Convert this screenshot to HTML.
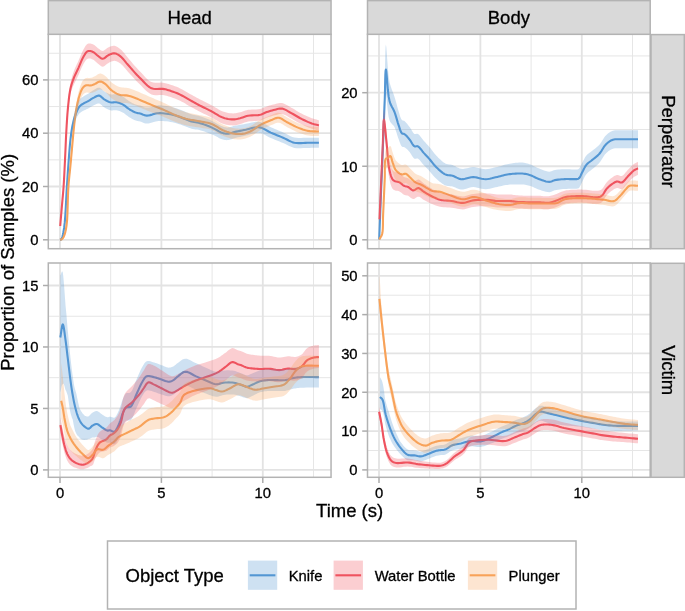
<!DOCTYPE html><html><head><meta charset="utf-8"><style>html,body{margin:0;padding:0;background:#fff;}svg{display:block;will-change:transform;} .t{stroke:#000;stroke-width:0.3px;}</style></head><body>
<svg width="685" height="611" viewBox="0 0 685 611" font-family='"Liberation Sans", sans-serif'>
<rect x="0" y="0" width="685" height="611" fill="#fff"/>
<clipPath id="chp"><rect x="48.3" y="34.3" width="282.75" height="214.39999999999998"/></clipPath>
<g clip-path="url(#chp)">
<line x1="110.7" y1="34.3" x2="110.7" y2="248.7" stroke="#E6E6E6" stroke-width="1.0"/>
<line x1="212.1" y1="34.3" x2="212.1" y2="248.7" stroke="#E6E6E6" stroke-width="1.0"/>
<line x1="313.5" y1="34.3" x2="313.5" y2="248.7" stroke="#E6E6E6" stroke-width="1.0"/>
<line x1="48.3" y1="213.15" x2="331.05" y2="213.15" stroke="#E6E6E6" stroke-width="1.0"/>
<line x1="48.3" y1="159.85" x2="331.05" y2="159.85" stroke="#E6E6E6" stroke-width="1.0"/>
<line x1="48.3" y1="106.55" x2="331.05" y2="106.55" stroke="#E6E6E6" stroke-width="1.0"/>
<line x1="48.3" y1="53.25" x2="331.05" y2="53.25" stroke="#E6E6E6" stroke-width="1.0"/>
<line x1="60" y1="34.3" x2="60" y2="248.7" stroke="#E3E3E3" stroke-width="1.8"/>
<line x1="161.4" y1="34.3" x2="161.4" y2="248.7" stroke="#E3E3E3" stroke-width="1.8"/>
<line x1="262.8" y1="34.3" x2="262.8" y2="248.7" stroke="#E3E3E3" stroke-width="1.8"/>
<line x1="48.3" y1="239.8" x2="331.05" y2="239.8" stroke="#E3E3E3" stroke-width="1.8"/>
<line x1="48.3" y1="186.5" x2="331.05" y2="186.5" stroke="#E3E3E3" stroke-width="1.8"/>
<line x1="48.3" y1="133.2" x2="331.05" y2="133.2" stroke="#E3E3E3" stroke-width="1.8"/>
<line x1="48.3" y1="79.9" x2="331.05" y2="79.9" stroke="#E3E3E3" stroke-width="1.8"/>
<path d="M60 239.8 L60.22 239.72 L60.44 239.66 L60.66 239.61 L60.88 239.53 L61.09 239.4 L61.3 239.2 L61.85 238.22 L62.37 236.76 L62.84 234.9 L63.28 232.74 L63.7 230.37 L64.1 227.9 L64.76 222.38 L65.3 215.61 L65.75 208.11 L66.14 200.41 L66.52 193.03 L66.9 186.5 L67.19 182.2 L67.45 178.17 L67.71 174.32 L67.96 170.57 L68.22 166.82 L68.5 163 L68.79 159.09 L69.08 155.11 L69.38 151.13 L69.69 147.24 L70.03 143.51 L70.4 140 L70.7 137.41 L71.01 134.94 L71.34 132.57 L71.68 130.27 L72.07 128.02 L72.5 125.8 L72.92 123.82 L73.36 121.88 L73.83 119.98 L74.33 118.12 L74.89 116.33 L75.5 114.6 L76.09 113.08 L76.71 111.57 L77.36 110.1 L78.06 108.72 L78.81 107.47 L79.6 106.4 L80.23 105.74 L80.89 105.17 L81.58 104.68 L82.28 104.24 L82.99 103.82 L83.7 103.4 L84.37 103.01 L85.04 102.67 L85.72 102.34 L86.4 102.02 L87.09 101.68 L87.8 101.3 L88.62 100.82 L89.44 100.3 L90.28 99.76 L91.13 99.22 L92.01 98.69 L92.9 98.2 L93.88 97.65 L94.91 97.04 L95.95 96.46 L97 95.96 L98.02 95.65 L99 95.6 L99.9 95.87 L100.76 96.4 L101.6 97.11 L102.44 97.9 L103.3 98.66 L104.2 99.3 L105.17 99.88 L106.17 100.48 L107.18 101.04 L108.21 101.56 L109.25 101.99 L110.3 102.3 L111.3 102.44 L112.31 102.43 L113.34 102.35 L114.36 102.25 L115.39 102.22 L116.4 102.3 L117.44 102.5 L118.48 102.76 L119.51 103.08 L120.54 103.46 L121.57 103.9 L122.6 104.4 L123.79 105.1 L124.98 105.95 L126.17 106.88 L127.35 107.82 L128.53 108.71 L129.7 109.5 L130.74 110.12 L131.78 110.71 L132.82 111.27 L133.84 111.78 L134.84 112.23 L135.8 112.6 L136.52 112.82 L137.21 112.98 L137.87 113.1 L138.55 113.2 L139.25 113.33 L140 113.5 L141.04 113.83 L142.12 114.26 L143.26 114.71 L144.43 115.13 L145.65 115.45 L146.9 115.6 L148.53 115.49 L150.28 115.13 L152.1 114.62 L153.9 114.07 L155.63 113.59 L157.2 113.3 L158.22 113.2 L159.15 113.15 L160.03 113.14 L160.92 113.17 L161.86 113.22 L162.9 113.3 L164.59 113.46 L166.45 113.69 L168.42 113.98 L170.44 114.33 L172.46 114.74 L174.4 115.2 L176.36 115.77 L178.37 116.45 L180.37 117.19 L182.3 117.94 L184.13 118.66 L185.8 119.3 L186.85 119.71 L187.8 120.1 L188.69 120.48 L189.58 120.84 L190.5 121.18 L191.5 121.5 L192.8 121.82 L194.16 122.08 L195.57 122.31 L197.02 122.55 L198.5 122.83 L200 123.2 L201.83 123.75 L203.73 124.37 L205.68 125.07 L207.63 125.81 L209.58 126.59 L211.5 127.4 L213.46 128.33 L215.45 129.41 L217.44 130.52 L219.37 131.57 L221.2 132.47 L222.9 133.1 L223.94 133.38 L224.92 133.57 L225.85 133.7 L226.76 133.76 L227.67 133.76 L228.6 133.7 L229.55 133.55 L230.46 133.31 L231.38 132.99 L232.32 132.65 L233.32 132.31 L234.4 132 L236.09 131.61 L237.97 131.23 L239.96 130.85 L241.97 130.47 L243.95 130.09 L245.8 129.7 L247.34 129.33 L248.84 128.92 L250.32 128.51 L251.75 128.13 L253.15 127.82 L254.5 127.6 L255.56 127.47 L256.56 127.37 L257.54 127.31 L258.52 127.31 L259.53 127.4 L260.6 127.6 L262.16 128.1 L263.8 128.85 L265.5 129.76 L267.24 130.74 L269.01 131.72 L270.8 132.6 L272.78 133.47 L274.83 134.32 L276.91 135.16 L279 136 L281.07 136.85 L283.1 137.7 L284.98 138.58 L286.82 139.54 L288.64 140.49 L290.47 141.39 L292.35 142.14 L294.3 142.7 L296.43 143.02 L298.65 143.12 L300.91 143.08 L303.19 142.97 L305.43 142.85 L307.6 142.8 L309.54 142.81 L311.43 142.81 L313.31 142.81 L315.17 142.8 L317.03 142.8 L318.9 142.8" fill="none" stroke="#5598D5" stroke-width="2.1" stroke-linejoin="round"/>
<path d="M60.2 226 L60.5 222.48 L60.8 218.95 L61.11 215.42 L61.41 211.9 L61.71 208.42 L62 205 L62.28 201.89 L62.55 198.87 L62.83 195.89 L63.1 192.87 L63.36 189.76 L63.6 186.5 L63.87 182.38 L64.11 178.08 L64.34 173.65 L64.56 169.13 L64.78 164.57 L65 160 L65.23 155.06 L65.46 149.98 L65.68 144.85 L65.9 139.75 L66.14 134.78 L66.4 130 L66.63 126.02 L66.87 122.14 L67.11 118.35 L67.37 114.64 L67.67 110.99 L68 107.4 L68.33 104.16 L68.66 100.91 L69.02 97.73 L69.42 94.64 L69.88 91.72 L70.4 89 L70.83 87.12 L71.29 85.37 L71.78 83.71 L72.31 82.1 L72.88 80.48 L73.5 78.8 L74.24 76.95 L75.06 75.09 L75.94 73.22 L76.83 71.35 L77.73 69.47 L78.6 67.6 L79.44 65.66 L80.28 63.65 L81.11 61.64 L81.95 59.7 L82.81 57.9 L83.7 56.3 L84.34 55.23 L84.98 54.17 L85.62 53.2 L86.29 52.34 L87.01 51.66 L87.8 51.2 L88.58 51 L89.42 50.97 L90.3 51.07 L91.19 51.28 L92.06 51.57 L92.9 51.9 L93.79 52.38 L94.65 53.01 L95.49 53.74 L96.33 54.51 L97.16 55.25 L98 55.9 L98.78 56.5 L99.55 57.14 L100.33 57.76 L101.11 58.3 L101.9 58.67 L102.7 58.8 L103.58 58.6 L104.48 58.09 L105.38 57.39 L106.3 56.61 L107.24 55.88 L108.2 55.3 L109.2 54.82 L110.22 54.34 L111.27 53.9 L112.33 53.54 L113.37 53.33 L114.4 53.3 L115.44 53.48 L116.46 53.84 L117.49 54.34 L118.5 54.95 L119.51 55.65 L120.5 56.4 L121.73 57.47 L122.92 58.73 L124.11 60.12 L125.29 61.59 L126.48 63.06 L127.7 64.5 L129.05 66.04 L130.46 67.66 L131.88 69.29 L133.27 70.88 L134.59 72.37 L135.8 73.7 L136.54 74.5 L137.21 75.2 L137.83 75.86 L138.48 76.51 L139.18 77.21 L140 78 L141.55 79.59 L143.33 81.5 L145.26 83.53 L147.31 85.48 L149.41 87.13 L151.5 88.3 L153.35 88.82 L155.31 89 L157.3 88.97 L159.27 88.85 L161.16 88.79 L162.9 88.9 L164.14 89.11 L165.29 89.34 L166.39 89.6 L167.48 89.89 L168.6 90.23 L169.8 90.6 L171.41 91.13 L173.11 91.72 L174.85 92.37 L176.62 93.07 L178.38 93.82 L180.1 94.6 L181.84 95.47 L183.57 96.42 L185.29 97.42 L187 98.43 L188.71 99.44 L190.4 100.4 L192.01 101.29 L193.59 102.16 L195.16 103.02 L196.74 103.88 L198.35 104.73 L200 105.6 L201.85 106.54 L203.76 107.47 L205.69 108.41 L207.64 109.36 L209.58 110.32 L211.5 111.3 L213.41 112.37 L215.31 113.53 L217.21 114.7 L219.1 115.81 L221 116.81 L222.9 117.6 L224.64 118.15 L226.4 118.6 L228.17 118.95 L229.92 119.2 L231.6 119.35 L233.2 119.4 L234.43 119.35 L235.59 119.22 L236.71 119.02 L237.82 118.77 L238.94 118.49 L240.1 118.2 L241.39 117.84 L242.67 117.4 L243.96 116.93 L245.28 116.46 L246.66 116.04 L248.1 115.7 L249.98 115.45 L252.01 115.34 L254.12 115.29 L256.21 115.23 L258.2 115.09 L260 114.8 L261.24 114.45 L262.37 114.01 L263.44 113.53 L264.49 113.03 L265.56 112.54 L266.7 112.1 L268.02 111.65 L269.38 111.21 L270.77 110.79 L272.16 110.39 L273.55 110.02 L274.9 109.7 L276.11 109.4 L277.31 109.09 L278.49 108.8 L279.68 108.6 L280.87 108.51 L282.1 108.6 L283.59 108.98 L285.1 109.6 L286.64 110.4 L288.18 111.3 L289.74 112.23 L291.3 113.1 L292.98 114.02 L294.66 115 L296.36 116.01 L298.07 117.02 L299.78 117.99 L301.5 118.9 L303.2 119.74 L304.94 120.57 L306.68 121.36 L308.41 122.11 L310.09 122.79 L311.7 123.4 L312.96 123.82 L314.18 124.18 L315.36 124.49 L316.54 124.79 L317.71 125.08 L318.9 125.4" fill="none" stroke="#EF5562" stroke-width="2.1" stroke-linejoin="round"/>
<path d="M60 239.8 L60.34 239.68 L60.68 239.58 L61.02 239.48 L61.36 239.36 L61.69 239.21 L62 239 L62.38 238.66 L62.73 238.25 L63.07 237.78 L63.39 237.25 L63.7 236.66 L64 236 L64.52 234.67 L65 233.13 L65.45 231.39 L65.86 229.45 L66.25 227.32 L66.6 225 L67.11 219.82 L67.45 213.5 L67.67 206.53 L67.86 199.38 L68.08 192.54 L68.4 186.5 L68.72 182.54 L69.06 178.84 L69.42 175.31 L69.79 171.88 L70.16 168.47 L70.5 165 L70.81 161.62 L71.11 158.27 L71.41 154.93 L71.71 151.61 L72 148.3 L72.3 145 L72.59 141.77 L72.87 138.55 L73.15 135.35 L73.44 132.15 L73.76 128.97 L74.1 125.8 L74.46 122.66 L74.83 119.49 L75.23 116.33 L75.65 113.23 L76.1 110.24 L76.6 107.4 L77.04 105.17 L77.5 103.01 L77.98 100.92 L78.49 98.91 L79.03 97 L79.6 95.2 L80.06 93.83 L80.53 92.49 L81.02 91.21 L81.54 90.01 L82.09 88.93 L82.7 88 L83.16 87.41 L83.63 86.88 L84.12 86.41 L84.64 86.01 L85.2 85.67 L85.8 85.4 L86.56 85.24 L87.4 85.23 L88.29 85.31 L89.19 85.41 L90.07 85.46 L90.9 85.4 L91.61 85.24 L92.3 85.03 L92.96 84.78 L93.63 84.5 L94.3 84.2 L95 83.9 L95.82 83.49 L96.67 82.98 L97.52 82.45 L98.38 81.97 L99.24 81.63 L100.1 81.5 L100.95 81.6 L101.81 81.86 L102.66 82.26 L103.51 82.75 L104.36 83.31 L105.2 83.9 L106.21 84.75 L107.19 85.76 L108.16 86.88 L109.15 88.02 L110.19 89.12 L111.3 90.1 L112.55 91.03 L113.87 91.95 L115.24 92.81 L116.65 93.59 L118.08 94.27 L119.5 94.8 L120.84 95.11 L122.2 95.26 L123.58 95.31 L124.96 95.33 L126.34 95.41 L127.7 95.6 L129.1 95.93 L130.52 96.34 L131.94 96.8 L133.31 97.28 L134.61 97.76 L135.8 98.2 L136.56 98.5 L137.23 98.77 L137.86 99.05 L138.5 99.34 L139.2 99.65 L140 100 L141.59 100.68 L143.41 101.47 L145.4 102.32 L147.46 103.2 L149.52 104.07 L151.5 104.9 L153.4 105.68 L155.3 106.43 L157.2 107.18 L159.1 107.94 L161 108.71 L162.9 109.5 L164.82 110.35 L166.73 111.23 L168.64 112.14 L170.56 113.03 L172.48 113.89 L174.4 114.7 L176.27 115.45 L178.13 116.17 L180 116.86 L181.88 117.51 L183.81 118.13 L185.8 118.7 L188.08 119.25 L190.46 119.73 L192.88 120.15 L195.31 120.56 L197.7 120.97 L200 121.4 L202 121.77 L203.95 122.1 L205.87 122.43 L207.76 122.81 L209.64 123.29 L211.5 123.9 L213.43 124.76 L215.33 125.82 L217.21 126.98 L219.08 128.16 L220.97 129.26 L222.9 130.2 L224.8 130.97 L226.73 131.69 L228.69 132.34 L230.63 132.9 L232.54 133.36 L234.4 133.7 L235.98 133.9 L237.53 134.02 L239.06 134.07 L240.56 134.03 L242.04 133.91 L243.5 133.7 L244.88 133.41 L246.23 133.03 L247.56 132.57 L248.88 132.03 L250.19 131.44 L251.5 130.8 L252.92 129.99 L254.3 129.05 L255.67 128.04 L257.07 127.01 L258.5 126.01 L260 125.1 L261.72 124.2 L263.52 123.32 L265.38 122.49 L267.24 121.7 L269.06 120.97 L270.8 120.3 L272.19 119.73 L273.55 119.12 L274.87 118.56 L276.18 118.1 L277.49 117.82 L278.8 117.8 L280.2 118.12 L281.58 118.75 L282.95 119.58 L284.34 120.51 L285.75 121.46 L287.2 122.3 L288.83 123.16 L290.5 124.05 L292.19 124.94 L293.91 125.81 L295.65 126.64 L297.4 127.4 L299.16 128.11 L300.95 128.79 L302.75 129.43 L304.56 130.01 L306.38 130.5 L308.2 130.9 L309.97 131.16 L311.75 131.3 L313.54 131.37 L315.33 131.4 L317.11 131.43 L318.9 131.5" fill="none" stroke="#F8A359" stroke-width="2.1" stroke-linejoin="round"/>
<path d="M60 238.8 L60.22 238.65 L60.44 238.53 L60.66 238.41 L60.88 238.27 L61.09 238.07 L61.3 237.81 L61.85 236.67 L62.37 235.05 L62.84 233.05 L63.28 230.75 L63.7 228.26 L64.1 225.67 L64.76 219.95 L65.3 213.02 L65.75 205.39 L66.14 197.57 L66.52 190.08 L66.9 183.43 L67.19 179.04 L67.45 174.93 L67.71 171.01 L67.96 167.18 L68.22 163.36 L68.5 159.45 L68.79 155.45 L69.08 151.38 L69.38 147.32 L69.69 143.34 L70.03 139.5 L70.4 135.88 L70.7 133.2 L71.01 130.64 L71.34 128.17 L71.68 125.76 L72.07 123.4 L72.5 121.05 L72.92 118.95 L73.36 116.87 L73.83 114.83 L74.33 112.82 L74.89 110.86 L75.5 108.95 L76.09 107.26 L76.71 105.55 L77.36 103.89 L78.06 102.3 L78.81 100.83 L79.6 99.52 L80.23 98.73 L80.89 98.13 L81.58 97.6 L82.28 97.13 L82.99 96.67 L83.7 96.22 L84.37 95.8 L85.04 95.41 L85.72 95.05 L86.4 94.7 L87.09 94.32 L87.8 93.91 L88.62 93.39 L89.44 92.83 L90.28 92.24 L91.13 91.66 L92.01 91.09 L92.9 90.55 L93.88 89.96 L94.91 89.3 L95.95 88.66 L97 88.11 L98.02 87.75 L99 87.65 L99.9 87.87 L100.76 88.4 L101.6 89.11 L102.44 89.9 L103.3 90.66 L104.2 91.3 L105.17 91.88 L106.17 92.48 L107.18 93.04 L108.21 93.56 L109.25 93.99 L110.3 94.3 L111.3 94.44 L112.31 94.43 L113.34 94.35 L114.36 94.25 L115.39 94.22 L116.4 94.3 L117.44 94.5 L118.48 94.76 L119.51 95.08 L120.54 95.46 L121.57 95.9 L122.6 96.4 L123.79 97.1 L124.98 97.95 L126.17 98.88 L127.35 99.82 L128.53 100.71 L129.7 101.5 L130.74 102.12 L131.78 102.71 L132.82 103.27 L133.84 103.78 L134.84 104.23 L135.8 104.6 L136.52 104.82 L137.21 104.98 L137.87 105.1 L138.55 105.2 L139.25 105.33 L140 105.5 L141.04 105.83 L142.12 106.26 L143.26 106.71 L144.43 107.13 L145.65 107.45 L146.9 107.6 L148.53 107.49 L150.28 107.13 L152.1 106.66 L153.9 106.14 L155.63 105.7 L157.2 105.44 L158.22 105.37 L159.15 105.34 L160.03 105.34 L160.92 105.38 L161.86 105.46 L162.9 105.56 L164.59 105.75 L166.45 106.02 L168.42 106.35 L170.44 106.74 L172.46 107.18 L174.4 107.69 L176.36 108.3 L178.37 109.02 L180.37 109.79 L182.3 110.59 L184.13 111.34 L185.8 112.02 L186.85 112.45 L187.8 112.86 L188.69 113.25 L189.58 113.63 L190.5 113.99 L191.5 114.33 L192.8 114.68 L194.16 114.96 L195.57 115.22 L197.02 115.49 L198.5 115.8 L200 116.2 L201.83 116.79 L203.73 117.46 L205.68 118.2 L207.63 118.98 L209.58 119.81 L211.5 120.66 L213.46 121.64 L215.45 122.76 L217.44 123.92 L219.37 125.01 L221.2 125.95 L222.9 126.62 L223.94 126.93 L224.92 127.15 L225.85 127.3 L226.76 127.39 L227.67 127.41 L228.6 127.37 L229.55 127.25 L230.46 127.03 L231.38 126.74 L232.32 126.42 L233.32 126.11 L234.4 125.83 L236.09 125.48 L237.97 125.15 L239.96 124.82 L241.97 124.5 L243.95 124.17 L245.8 123.83 L247.34 123.49 L248.84 123.13 L250.32 122.76 L251.75 122.42 L253.15 122.14 L254.5 121.96 L255.56 121.86 L256.56 121.78 L257.54 121.74 L258.52 121.77 L259.53 121.89 L260.6 122.11 L262.16 122.62 L263.8 123.38 L265.5 124.3 L267.24 125.3 L269.01 126.29 L270.8 127.19 L272.78 128.08 L274.83 128.95 L276.91 129.81 L279 130.67 L281.07 131.53 L283.1 132.4 L284.98 133.3 L286.82 134.27 L288.64 135.24 L290.47 136.15 L292.35 136.92 L294.3 137.5 L296.43 137.83 L298.65 137.96 L300.91 137.93 L303.19 137.84 L305.43 137.74 L307.6 137.71 L309.54 137.73 L311.43 137.75 L313.31 137.77 L315.17 137.78 L317.03 137.79 L318.9 137.8 L318.9 147.8 L317.03 147.81 L315.17 147.83 L313.31 147.85 L311.43 147.86 L309.54 147.88 L307.6 147.89 L305.43 147.96 L303.19 148.1 L300.91 148.23 L298.65 148.29 L296.43 148.21 L294.3 147.9 L292.35 147.36 L290.47 146.62 L288.64 145.75 L286.82 144.81 L284.98 143.87 L283.1 143 L281.07 142.17 L279 141.34 L276.91 140.52 L274.83 139.69 L272.78 138.86 L270.8 138.01 L269.01 137.14 L267.24 136.18 L265.5 135.21 L263.8 134.32 L262.16 133.58 L260.6 133.09 L259.53 132.91 L258.52 132.85 L257.54 132.87 L256.56 132.96 L255.56 133.09 L254.5 133.24 L253.15 133.5 L251.75 133.85 L250.32 134.27 L248.84 134.71 L247.34 135.16 L245.8 135.57 L243.95 136.01 L241.97 136.45 L239.96 136.88 L237.97 137.31 L236.09 137.74 L234.4 138.17 L233.32 138.51 L232.32 138.88 L231.38 139.25 L230.46 139.58 L229.55 139.85 L228.6 140.03 L227.67 140.11 L226.76 140.14 L225.85 140.1 L224.92 140 L223.94 139.82 L222.9 139.58 L221.2 138.98 L219.37 138.13 L217.44 137.12 L215.45 136.06 L213.46 135.03 L211.5 134.14 L209.58 133.38 L207.63 132.64 L205.68 131.94 L203.73 131.29 L201.83 130.71 L200 130.2 L198.5 129.86 L197.02 129.61 L195.57 129.4 L194.16 129.2 L192.8 128.97 L191.5 128.67 L190.5 128.37 L189.58 128.05 L188.69 127.71 L187.8 127.35 L186.85 126.97 L185.8 126.58 L184.13 125.98 L182.3 125.29 L180.37 124.58 L178.37 123.88 L176.36 123.24 L174.4 122.71 L172.46 122.29 L170.44 121.92 L168.42 121.61 L166.45 121.36 L164.59 121.17 L162.9 121.04 L161.86 120.98 L160.92 120.95 L160.03 120.94 L159.15 120.97 L158.22 121.04 L157.2 121.16 L155.63 121.48 L153.9 121.99 L152.1 122.57 L150.28 123.12 L148.53 123.49 L146.9 123.6 L145.65 123.45 L144.43 123.13 L143.26 122.71 L142.12 122.26 L141.04 121.83 L140 121.5 L139.25 121.33 L138.55 121.2 L137.87 121.1 L137.21 120.98 L136.52 120.82 L135.8 120.6 L134.84 120.23 L133.84 119.78 L132.82 119.27 L131.78 118.71 L130.74 118.12 L129.7 117.5 L128.53 116.71 L127.35 115.82 L126.17 114.88 L124.98 113.95 L123.79 113.1 L122.6 112.4 L121.57 111.9 L120.54 111.46 L119.51 111.08 L118.48 110.76 L117.44 110.5 L116.4 110.3 L115.39 110.22 L114.36 110.25 L113.34 110.35 L112.31 110.43 L111.3 110.44 L110.3 110.3 L109.25 109.99 L108.21 109.56 L107.18 109.04 L106.17 108.48 L105.17 107.88 L104.2 107.3 L103.3 106.66 L102.44 105.9 L101.6 105.11 L100.76 104.4 L99.9 103.86 L99 103.55 L98.02 103.55 L97 103.81 L95.95 104.25 L94.91 104.79 L93.88 105.35 L92.9 105.84 L92.01 106.29 L91.13 106.77 L90.28 107.27 L89.44 107.77 L88.62 108.25 L87.8 108.69 L87.09 109.03 L86.4 109.34 L85.72 109.63 L85.04 109.92 L84.37 110.23 L83.7 110.59 L82.99 110.97 L82.28 111.36 L81.58 111.76 L80.89 112.22 L80.23 112.75 L79.6 113.28 L78.81 114.11 L78.06 115.14 L77.36 116.31 L76.71 117.58 L76.09 118.91 L75.5 120.25 L74.89 121.8 L74.33 123.42 L73.83 125.12 L73.36 126.89 L72.92 128.7 L72.5 130.55 L72.07 132.64 L71.68 134.77 L71.34 136.97 L71.01 139.25 L70.7 141.62 L70.4 144.12 L70.03 147.52 L69.69 151.15 L69.38 154.95 L69.08 158.83 L68.79 162.72 L68.5 166.55 L68.22 170.29 L67.96 173.96 L67.71 177.63 L67.45 181.4 L67.19 185.35 L66.9 189.57 L66.52 195.98 L66.14 203.25 L65.75 210.84 L65.3 218.2 L64.76 224.81 L64.1 230.13 L63.7 232.48 L63.28 234.72 L62.84 236.75 L62.37 238.47 L61.85 239.78 L61.3 240.59 L61.09 240.73 L60.88 240.79 L60.66 240.81 L60.44 240.8 L60.22 240.79 L60 240.8Z" fill="#5093D2" fill-opacity="0.28"/>
<path d="M60.2 222.95 L60.5 219.36 L60.8 215.75 L61.11 212.14 L61.41 208.55 L61.71 205 L62 201.5 L62.28 198.32 L62.55 195.23 L62.83 192.18 L63.1 189.1 L63.36 185.92 L63.6 182.6 L63.87 178.41 L64.11 174.05 L64.34 169.57 L64.56 164.99 L64.78 160.37 L65 155.75 L65.23 150.75 L65.46 145.62 L65.68 140.43 L65.9 135.28 L66.14 130.24 L66.4 125.4 L66.63 121.36 L66.87 117.42 L67.11 113.57 L67.37 109.8 L67.67 106.08 L68 102.4 L68.33 99.06 L68.66 95.72 L69.02 92.43 L69.42 89.24 L69.88 86.18 L70.4 83.31 L70.83 81.31 L71.29 79.43 L71.78 77.63 L72.31 75.87 L72.88 74.08 L73.5 72.23 L74.24 70.16 L75.06 68.09 L75.94 66.19 L76.83 64.29 L77.73 62.38 L78.6 60.48 L79.44 58.51 L80.28 56.48 L81.11 54.44 L81.95 52.47 L82.81 50.64 L83.7 49.01 L84.34 47.91 L84.98 46.84 L85.62 45.84 L86.29 44.96 L87.01 44.26 L87.8 43.77 L88.58 43.55 L89.42 43.49 L90.3 43.56 L91.19 43.75 L92.06 44 L92.9 44.3 L93.79 44.75 L94.65 45.36 L95.49 46.06 L96.33 46.8 L97.16 47.51 L98 48.13 L98.78 48.7 L99.55 49.32 L100.33 49.92 L101.11 50.43 L101.9 50.77 L102.7 50.88 L103.58 50.65 L104.48 50.11 L105.38 49.41 L106.3 48.68 L107.24 47.99 L108.2 47.46 L109.2 47.03 L110.22 46.6 L111.27 46.21 L112.33 45.91 L113.37 45.75 L114.4 45.77 L115.44 46 L116.46 46.41 L117.49 46.96 L118.5 47.63 L119.51 48.38 L120.5 49.17 L121.73 50.31 L122.92 51.63 L124.11 53.08 L125.29 54.6 L126.48 56.11 L127.7 57.59 L129.05 59.17 L130.46 60.83 L131.88 62.51 L133.27 64.14 L134.59 65.67 L135.8 67.05 L136.54 67.87 L137.21 68.59 L137.83 69.27 L138.48 69.94 L139.18 70.66 L140 71.48 L141.55 73.12 L143.33 75.09 L145.26 77.18 L147.31 79.19 L149.41 80.91 L151.5 82.1 L153.35 82.62 L155.31 82.8 L157.3 82.77 L159.27 82.65 L161.16 82.59 L162.9 82.7 L164.14 82.91 L165.29 83.14 L166.39 83.4 L167.48 83.69 L168.6 84.03 L169.8 84.4 L171.41 84.93 L173.11 85.52 L174.85 86.17 L176.62 86.87 L178.38 87.62 L180.1 88.4 L181.84 89.27 L183.57 90.22 L185.29 91.22 L187 92.23 L188.71 93.24 L190.4 94.2 L192.01 95.09 L193.59 95.96 L195.16 96.82 L196.74 97.68 L198.35 98.53 L200 99.4 L201.85 100.35 L203.76 101.3 L205.69 102.25 L207.64 103.2 L209.58 104.18 L211.5 105.17 L213.41 106.25 L215.31 107.42 L217.21 108.6 L219.1 109.73 L221 110.73 L222.9 111.54 L224.64 112.1 L226.4 112.56 L228.17 112.92 L229.92 113.18 L231.6 113.34 L233.2 113.4 L234.43 113.37 L235.59 113.24 L236.71 113.06 L237.82 112.82 L238.94 112.55 L240.1 112.28 L241.39 111.93 L242.67 111.5 L243.96 111.05 L245.28 110.59 L246.66 110.19 L248.1 109.86 L249.98 109.64 L252.01 109.54 L254.12 109.52 L256.21 109.48 L258.2 109.36 L260 109.09 L261.24 108.75 L262.37 108.33 L263.44 107.86 L264.49 107.37 L265.56 106.89 L266.7 106.46 L268.02 106.03 L269.38 105.61 L270.77 105.19 L272.16 104.8 L273.55 104.45 L274.9 104.14 L276.11 103.85 L277.31 103.55 L278.49 103.27 L279.68 103.08 L280.87 103 L282.1 103.1 L283.59 103.49 L285.1 104.13 L286.64 104.94 L288.18 105.85 L289.74 106.79 L291.3 107.68 L292.98 108.61 L294.66 109.61 L296.36 110.63 L298.07 111.65 L299.78 112.64 L301.5 113.56 L303.2 114.42 L304.94 115.26 L306.68 116.07 L308.41 116.83 L310.09 117.53 L311.7 118.15 L312.96 118.58 L314.18 118.95 L315.36 119.27 L316.54 119.58 L317.71 119.88 L318.9 120.2 L318.9 130.6 L317.71 130.29 L316.54 130 L315.36 129.72 L314.18 129.41 L312.96 129.06 L311.7 128.65 L310.09 128.06 L308.41 127.39 L306.68 126.66 L304.94 125.88 L303.2 125.07 L301.5 124.24 L299.78 123.34 L298.07 122.38 L296.36 121.39 L294.66 120.4 L292.98 119.43 L291.3 118.52 L289.74 117.66 L288.18 116.75 L286.64 115.86 L285.1 115.07 L283.59 114.46 L282.1 114.1 L280.87 114.02 L279.68 114.11 L278.49 114.33 L277.31 114.63 L276.11 114.95 L274.9 115.26 L273.55 115.59 L272.16 115.97 L270.77 116.38 L269.38 116.82 L268.02 117.27 L266.7 117.74 L265.56 118.19 L264.49 118.69 L263.44 119.2 L262.37 119.69 L261.24 120.14 L260 120.51 L258.2 120.82 L256.21 120.98 L254.12 121.06 L252.01 121.13 L249.98 121.27 L248.1 121.54 L246.66 121.89 L245.28 122.33 L243.96 122.81 L242.67 123.3 L241.39 123.75 L240.1 124.12 L238.94 124.42 L237.82 124.71 L236.71 124.98 L235.59 125.19 L234.43 125.34 L233.2 125.4 L231.6 125.36 L229.92 125.22 L228.17 124.98 L226.4 124.64 L224.64 124.2 L222.9 123.66 L221 122.88 L219.1 121.9 L217.21 120.79 L215.31 119.63 L213.41 118.49 L211.5 117.43 L209.58 116.46 L207.64 115.51 L205.69 114.58 L203.76 113.65 L201.85 112.73 L200 111.8 L198.35 110.93 L196.74 110.08 L195.16 109.22 L193.59 108.36 L192.01 107.49 L190.4 106.6 L188.71 105.64 L187 104.63 L185.29 103.62 L183.57 102.62 L181.84 101.67 L180.1 100.8 L178.38 100.02 L176.62 99.27 L174.85 98.57 L173.11 97.92 L171.41 97.33 L169.8 96.8 L168.6 96.43 L167.48 96.09 L166.39 95.8 L165.29 95.54 L164.14 95.31 L162.9 95.1 L161.16 94.99 L159.27 95.05 L157.3 95.17 L155.31 95.2 L153.35 95.02 L151.5 94.5 L149.41 93.35 L147.31 91.76 L145.26 89.88 L143.33 87.92 L141.55 86.06 L140 84.52 L139.18 83.76 L138.48 83.08 L137.83 82.45 L137.21 81.81 L136.54 81.13 L135.8 80.35 L134.59 79.06 L133.27 77.61 L131.88 76.07 L130.46 74.48 L129.05 72.91 L127.7 71.41 L126.48 70.02 L125.29 68.58 L124.11 67.17 L122.92 65.84 L121.73 64.64 L120.5 63.62 L119.51 62.93 L118.5 62.28 L117.49 61.72 L116.46 61.26 L115.44 60.96 L114.4 60.83 L113.37 60.91 L112.33 61.18 L111.27 61.58 L110.22 62.08 L109.2 62.61 L108.2 63.14 L107.24 63.76 L106.3 64.55 L105.38 65.37 L104.48 66.07 L103.58 66.55 L102.7 66.72 L101.9 66.56 L101.11 66.17 L100.33 65.61 L99.55 64.96 L98.78 64.29 L98 63.67 L97.16 62.98 L96.33 62.22 L95.49 61.43 L94.65 60.67 L93.79 60.01 L92.9 59.5 L92.06 59.14 L91.19 58.82 L90.3 58.58 L89.42 58.45 L88.58 58.45 L87.8 58.63 L87.01 59.06 L86.29 59.72 L85.62 60.55 L84.98 61.51 L84.34 62.54 L83.7 63.59 L82.81 65.16 L81.95 66.93 L81.11 68.85 L80.28 70.83 L79.44 72.81 L78.6 74.72 L77.73 76.56 L76.83 78.41 L75.94 80.25 L75.06 82.09 L74.24 83.73 L73.5 85.37 L72.88 86.87 L72.31 88.33 L71.78 89.79 L71.29 91.31 L70.83 92.93 L70.4 94.69 L69.88 97.26 L69.42 100.05 L69.02 103.02 L68.66 106.1 L68.33 109.25 L68 112.4 L67.67 115.91 L67.37 119.48 L67.11 123.13 L66.87 126.86 L66.63 130.68 L66.4 134.6 L66.14 139.31 L65.9 144.23 L65.68 149.27 L65.46 154.34 L65.23 159.37 L65 164.25 L64.78 168.76 L64.56 173.27 L64.34 177.74 L64.11 182.11 L63.87 186.35 L63.6 190.4 L63.36 193.6 L63.1 196.65 L62.83 199.59 L62.55 202.51 L62.28 205.46 L62 208.5 L61.71 211.85 L61.41 215.25 L61.11 218.69 L60.8 222.15 L60.5 225.61 L60.2 229.05Z" fill="#F04E5A" fill-opacity="0.28"/>
<path d="M60 238.8 L60.34 238.58 L60.68 238.38 L61.02 238.18 L61.36 237.96 L61.69 237.7 L62 237.4 L62.38 236.94 L62.73 236.43 L63.07 235.86 L63.39 235.24 L63.7 234.55 L64 233.8 L64.52 232.31 L65 230.63 L65.45 228.75 L65.86 226.69 L66.25 224.44 L66.6 222.02 L67.11 216.69 L67.45 210.27 L67.67 203.22 L67.86 196.02 L68.08 189.12 L68.4 182.98 L68.72 178.93 L69.06 175.12 L69.42 171.48 L69.79 167.94 L70.16 164.42 L70.5 160.85 L70.81 157.38 L71.11 153.93 L71.41 150.51 L71.71 147.1 L72 143.7 L72.3 140.31 L72.59 137 L72.87 133.69 L73.15 130.4 L73.44 127.12 L73.76 123.84 L74.1 120.57 L74.46 117.32 L74.83 114.04 L75.23 110.76 L75.65 107.53 L76.1 104.4 L76.6 101.42 L77.04 99.06 L77.5 96.76 L77.98 94.52 L78.49 92.37 L79.03 90.29 L79.6 88.32 L80.06 86.82 L80.53 85.46 L81.02 84.15 L81.54 82.93 L82.09 81.83 L82.7 80.86 L83.16 80.26 L83.63 79.7 L84.12 79.21 L84.64 78.77 L85.2 78.41 L85.8 78.11 L86.56 77.91 L87.4 77.86 L88.29 77.9 L89.19 77.95 L90.07 77.96 L90.9 77.86 L91.61 77.66 L92.3 77.41 L92.96 77.13 L93.63 76.81 L94.3 76.48 L95 76.15 L95.82 75.7 L96.67 75.14 L97.52 74.57 L98.38 74.05 L99.24 73.67 L100.1 73.5 L100.95 73.61 L101.81 73.88 L102.66 74.29 L103.51 74.79 L104.36 75.36 L105.2 75.96 L106.21 76.82 L107.19 77.85 L108.16 78.98 L109.15 80.13 L110.19 81.24 L111.3 82.24 L112.55 83.18 L113.87 84.11 L115.24 84.99 L116.65 85.79 L118.08 86.48 L119.5 87.03 L120.84 87.36 L122.2 87.53 L123.58 87.59 L124.96 87.63 L126.34 87.72 L127.7 87.93 L129.1 88.28 L130.52 88.71 L131.94 89.18 L133.31 89.68 L134.61 90.17 L135.8 90.63 L136.56 90.93 L137.23 91.22 L137.86 91.51 L138.5 91.8 L139.2 92.12 L140 92.48 L141.59 93.18 L143.41 93.99 L145.4 94.86 L147.46 95.77 L149.52 96.66 L151.5 97.54 L153.4 98.36 L155.3 99.16 L157.2 99.95 L159.1 100.75 L161 101.57 L162.9 102.41 L164.82 103.3 L166.73 104.23 L168.64 105.18 L170.56 106.12 L172.48 107.03 L174.4 107.88 L176.27 108.67 L178.13 109.44 L180 110.17 L181.88 110.87 L183.81 111.53 L185.8 112.15 L188.08 112.75 L190.46 113.29 L192.88 113.77 L195.31 114.24 L197.7 114.7 L200 115.19 L202 115.61 L203.95 115.98 L205.87 116.36 L207.76 116.78 L209.64 117.3 L211.5 117.96 L213.43 118.87 L215.33 119.97 L217.21 121.18 L219.08 122.4 L220.97 123.55 L222.9 124.53 L224.8 125.35 L226.73 126.11 L228.69 126.81 L230.63 127.41 L232.54 127.89 L234.4 128.25 L235.98 128.47 L237.53 128.61 L239.06 128.67 L240.56 128.65 L242.04 128.55 L243.5 128.35 L244.88 128.08 L246.23 127.71 L247.56 127.26 L248.88 126.75 L250.19 126.17 L251.5 125.54 L252.92 124.75 L254.3 123.83 L255.67 122.83 L257.07 121.82 L258.5 120.84 L260 119.94 L261.72 119.06 L263.52 118.21 L265.38 117.39 L267.24 116.63 L269.06 115.91 L270.8 115.26 L272.19 114.71 L273.55 114.12 L274.87 113.57 L276.18 113.12 L277.49 112.86 L278.8 112.85 L280.2 113.19 L281.58 113.83 L282.95 114.68 L284.34 115.63 L285.75 116.59 L287.2 117.45 L288.83 118.33 L290.5 119.23 L292.19 120.14 L293.91 121.04 L295.65 121.89 L297.4 122.67 L299.16 123.39 L300.95 124.1 L302.75 124.76 L304.56 125.36 L306.38 125.87 L308.2 126.29 L309.97 126.57 L311.75 126.73 L313.54 126.82 L315.33 126.87 L317.11 126.92 L318.9 127 L318.9 136 L317.11 135.94 L315.33 135.93 L313.54 135.92 L311.75 135.88 L309.97 135.75 L308.2 135.51 L306.38 135.14 L304.56 134.66 L302.75 134.11 L300.95 133.49 L299.16 132.82 L297.4 132.13 L295.65 131.39 L293.91 130.58 L292.19 129.73 L290.5 128.86 L288.83 127.99 L287.2 127.15 L285.75 126.32 L284.34 125.4 L282.95 124.48 L281.58 123.66 L280.2 123.05 L278.8 122.75 L277.49 122.78 L276.18 123.07 L274.87 123.55 L273.55 124.13 L272.19 124.75 L270.8 125.34 L269.06 126.03 L267.24 126.78 L265.38 127.59 L263.52 128.44 L261.72 129.34 L260 130.26 L258.5 131.19 L257.07 132.2 L255.67 133.25 L254.3 134.28 L252.92 135.23 L251.5 136.06 L250.19 136.71 L248.88 137.32 L247.56 137.87 L246.23 138.34 L244.88 138.74 L243.5 139.05 L242.04 139.27 L240.56 139.41 L239.06 139.46 L237.53 139.44 L235.98 139.33 L234.4 139.15 L232.54 138.83 L230.63 138.4 L228.69 137.87 L226.73 137.27 L224.8 136.59 L222.9 135.87 L220.97 134.98 L219.08 133.92 L217.21 132.79 L215.33 131.67 L213.43 130.66 L211.5 129.84 L209.64 129.27 L207.76 128.84 L205.87 128.51 L203.95 128.22 L202 127.94 L200 127.61 L197.7 127.23 L195.31 126.88 L192.88 126.54 L190.46 126.17 L188.08 125.75 L185.8 125.25 L183.81 124.73 L181.88 124.16 L180 123.55 L178.13 122.9 L176.27 122.22 L174.4 121.52 L172.48 120.76 L170.56 119.94 L168.64 119.09 L166.73 118.24 L164.82 117.4 L162.9 116.59 L161 115.84 L159.1 115.12 L157.2 114.41 L155.3 113.71 L153.4 112.99 L151.5 112.26 L149.52 111.48 L147.46 110.63 L145.4 109.77 L143.41 108.94 L141.59 108.18 L140 107.52 L139.2 107.18 L138.5 106.88 L137.86 106.6 L137.23 106.33 L136.56 106.06 L135.8 105.77 L134.61 105.34 L133.31 104.88 L131.94 104.41 L130.52 103.97 L129.1 103.58 L127.7 103.27 L126.34 103.09 L124.96 103.03 L123.58 103.02 L122.2 102.99 L120.84 102.86 L119.5 102.57 L118.08 102.05 L116.65 101.39 L115.24 100.63 L113.87 99.78 L112.55 98.88 L111.3 97.96 L110.19 97 L109.15 95.91 L108.16 94.78 L107.19 93.68 L106.21 92.67 L105.2 91.84 L104.36 91.26 L103.51 90.71 L102.66 90.22 L101.81 89.84 L100.95 89.58 L100.1 89.5 L99.24 89.59 L98.38 89.89 L97.52 90.32 L96.67 90.81 L95.82 91.28 L95 91.65 L94.3 91.91 L93.63 92.18 L92.96 92.42 L92.3 92.64 L91.61 92.82 L90.9 92.95 L90.07 92.97 L89.19 92.87 L88.29 92.73 L87.4 92.6 L86.56 92.57 L85.8 92.69 L85.2 92.93 L84.64 93.24 L84.12 93.62 L83.63 94.06 L83.16 94.57 L82.7 95.14 L82.09 96.04 L81.54 97.09 L81.02 98.26 L80.53 99.51 L80.06 100.83 L79.6 102.08 L79.03 103.71 L78.49 105.46 L77.98 107.31 L77.5 109.26 L77.04 111.29 L76.6 113.38 L76.1 116.07 L75.65 118.92 L75.23 121.9 L74.83 124.94 L74.46 128 L74.1 131.03 L73.76 134.1 L73.44 137.18 L73.15 140.29 L72.87 143.41 L72.59 146.55 L72.3 149.69 L72 152.9 L71.71 156.12 L71.41 159.35 L71.11 162.6 L70.81 165.86 L70.5 169.15 L70.16 172.51 L69.79 175.82 L69.42 179.14 L69.06 182.56 L68.72 186.16 L68.4 190.02 L68.08 195.97 L67.86 202.74 L67.67 209.83 L67.45 216.73 L67.11 222.95 L66.6 227.98 L66.25 230.19 L65.86 232.21 L65.45 234.02 L65 235.63 L64.52 237.02 L64 238.2 L63.7 238.77 L63.39 239.27 L63.07 239.7 L62.73 240.07 L62.38 240.37 L62 240.6 L61.69 240.72 L61.36 240.77 L61.02 240.79 L60.68 240.79 L60.34 240.78 L60 240.8Z" fill="#F8A359" fill-opacity="0.28"/>
</g>
<rect x="48.3" y="34.3" width="282.75" height="214.4" fill="none" stroke="#B3B3B3" stroke-width="1.5"/>
<line x1="43" y1="239.8" x2="48.3" y2="239.8" stroke="#ACACAC" stroke-width="1.5"/>
<text x="38.4" y="245.05" font-size="14.8" text-anchor="end" fill="#000" class="t">0</text>
<line x1="43" y1="186.5" x2="48.3" y2="186.5" stroke="#ACACAC" stroke-width="1.5"/>
<text x="38.4" y="191.75" font-size="14.8" text-anchor="end" fill="#000" class="t">20</text>
<line x1="43" y1="133.2" x2="48.3" y2="133.2" stroke="#ACACAC" stroke-width="1.5"/>
<text x="38.4" y="138.45" font-size="14.8" text-anchor="end" fill="#000" class="t">40</text>
<line x1="43" y1="79.9" x2="48.3" y2="79.9" stroke="#ACACAC" stroke-width="1.5"/>
<text x="38.4" y="85.15" font-size="14.8" text-anchor="end" fill="#000" class="t">60</text>
<clipPath id="cbp"><rect x="367.5" y="34.3" width="282.70000000000005" height="214.39999999999998"/></clipPath>
<g clip-path="url(#cbp)">
<line x1="429.7" y1="34.3" x2="429.7" y2="248.7" stroke="#E6E6E6" stroke-width="1.0"/>
<line x1="531.1" y1="34.3" x2="531.1" y2="248.7" stroke="#E6E6E6" stroke-width="1.0"/>
<line x1="632.5" y1="34.3" x2="632.5" y2="248.7" stroke="#E6E6E6" stroke-width="1.0"/>
<line x1="367.5" y1="203.03" x2="650.2" y2="203.03" stroke="#E6E6E6" stroke-width="1.0"/>
<line x1="367.5" y1="129.48" x2="650.2" y2="129.48" stroke="#E6E6E6" stroke-width="1.0"/>
<line x1="367.5" y1="55.93" x2="650.2" y2="55.93" stroke="#E6E6E6" stroke-width="1.0"/>
<line x1="379" y1="34.3" x2="379" y2="248.7" stroke="#E3E3E3" stroke-width="1.8"/>
<line x1="480.4" y1="34.3" x2="480.4" y2="248.7" stroke="#E3E3E3" stroke-width="1.8"/>
<line x1="581.8" y1="34.3" x2="581.8" y2="248.7" stroke="#E3E3E3" stroke-width="1.8"/>
<line x1="367.5" y1="239.8" x2="650.2" y2="239.8" stroke="#E3E3E3" stroke-width="1.8"/>
<line x1="367.5" y1="166.25" x2="650.2" y2="166.25" stroke="#E3E3E3" stroke-width="1.8"/>
<line x1="367.5" y1="92.7" x2="650.2" y2="92.7" stroke="#E3E3E3" stroke-width="1.8"/>
<path d="M379.2 239.5 L379.38 234.78 L379.57 230.06 L379.75 225.35 L379.93 220.63 L380.12 215.91 L380.3 211.2 L380.48 206.5 L380.66 201.8 L380.84 197.11 L381.03 192.41 L381.21 187.71 L381.4 183 L381.6 178.26 L381.8 173.51 L382 168.75 L382.2 164 L382.4 159.25 L382.6 154.5 L382.79 149.78 L382.97 145.06 L383.16 140.35 L383.34 135.63 L383.52 130.92 L383.7 126.2 L383.88 121.47 L384.07 116.74 L384.25 112 L384.43 107.26 L384.62 102.53 L384.8 97.8 L384.96 92.43 L385.08 86.27 L385.21 80.12 L385.36 74.75 L385.58 70.95 L385.9 69.5 L386.3 71.32 L386.74 76.06 L387.24 82.57 L387.86 89.72 L388.63 96.38 L389.6 101.4 L390.31 103.53 L391.12 105.36 L391.99 107.02 L392.87 108.6 L393.72 110.23 L394.5 112 L395.26 114.12 L395.96 116.36 L396.63 118.65 L397.28 120.91 L397.93 123.08 L398.6 125.1 L399.13 126.69 L399.64 128.31 L400.15 129.87 L400.68 131.29 L401.25 132.46 L401.9 133.3 L402.28 133.56 L402.68 133.69 L403.09 133.75 L403.51 133.79 L403.95 133.89 L404.4 134.1 L405.23 134.72 L406.13 135.57 L407.07 136.56 L408.01 137.64 L408.93 138.74 L409.8 139.8 L410.61 140.93 L411.37 142.2 L412.11 143.49 L412.84 144.69 L413.6 145.66 L414.4 146.3 L414.95 146.46 L415.5 146.43 L416.07 146.32 L416.64 146.2 L417.22 146.16 L417.8 146.3 L418.73 146.9 L419.67 147.83 L420.62 148.97 L421.58 150.22 L422.54 151.46 L423.5 152.6 L424.46 153.65 L425.44 154.69 L426.41 155.72 L427.38 156.77 L428.35 157.82 L429.3 158.9 L430.26 160.04 L431.22 161.22 L432.17 162.42 L433.11 163.6 L434.05 164.73 L435 165.8 L435.83 166.68 L436.64 167.52 L437.46 168.32 L438.28 169.1 L439.13 169.86 L440 170.6 L440.9 171.35 L441.81 172.1 L442.73 172.83 L443.69 173.5 L444.67 174.1 L445.7 174.6 L446.78 174.94 L447.89 175.15 L449.04 175.27 L450.22 175.38 L451.4 175.54 L452.6 175.8 L453.97 176.3 L455.35 176.95 L456.75 177.67 L458.18 178.35 L459.66 178.89 L461.2 179.2 L463.06 179.17 L465.02 178.82 L467.04 178.29 L469.09 177.73 L471.16 177.29 L473.2 177.1 L475.29 177.25 L477.4 177.65 L479.52 178.17 L481.63 178.68 L483.73 179.07 L485.8 179.2 L487.77 179.06 L489.74 178.75 L491.69 178.32 L493.61 177.83 L495.49 177.34 L497.3 176.9 L498.81 176.54 L500.27 176.17 L501.69 175.79 L503.09 175.43 L504.49 175.09 L505.9 174.8 L507.26 174.55 L508.61 174.33 L509.96 174.13 L511.31 173.95 L512.69 173.81 L514.1 173.7 L515.7 173.6 L517.37 173.53 L519.07 173.49 L520.75 173.5 L522.37 173.56 L523.9 173.7 L525.08 173.87 L526.19 174.07 L527.26 174.32 L528.32 174.61 L529.39 174.93 L530.5 175.3 L531.8 175.8 L533.1 176.39 L534.43 177.04 L535.78 177.69 L537.16 178.33 L538.6 178.9 L540.32 179.54 L542.16 180.21 L544.05 180.86 L545.92 181.41 L547.69 181.78 L549.3 181.9 L550.34 181.79 L551.27 181.52 L552.16 181.16 L553.04 180.76 L553.97 180.39 L555 180.1 L556.47 179.84 L558.06 179.62 L559.72 179.45 L561.43 179.3 L563.13 179.19 L564.8 179.1 L566.48 179.05 L568.23 179.06 L569.97 179.1 L571.65 179.13 L573.22 179.14 L574.6 179.1 L575.38 179.08 L576.1 179.1 L576.78 179.1 L577.41 179.05 L578.01 178.9 L578.6 178.6 L579.37 177.87 L580.05 176.84 L580.67 175.6 L581.27 174.27 L581.87 172.93 L582.5 171.7 L583.13 170.53 L583.72 169.33 L584.32 168.13 L584.94 166.96 L585.63 165.84 L586.4 164.8 L587.26 163.88 L588.2 163.05 L589.2 162.26 L590.23 161.5 L591.27 160.72 L592.3 159.9 L593.43 158.98 L594.59 158.07 L595.77 157.14 L596.94 156.17 L598.09 155.13 L599.2 154 L600.4 152.5 L601.53 150.8 L602.63 149 L603.73 147.23 L604.88 145.6 L606.1 144.2 L607.17 143.21 L608.27 142.3 L609.39 141.48 L610.54 140.77 L611.71 140.17 L612.9 139.7 L613.98 139.42 L615.03 139.29 L616.11 139.26 L617.23 139.28 L618.45 139.31 L619.8 139.3 L622.33 139.25 L625.22 139.24 L628.36 139.25 L631.61 139.27 L634.87 139.29 L638 139.3" fill="none" stroke="#5598D5" stroke-width="2.1" stroke-linejoin="round"/>
<path d="M379.5 219.4 L379.68 215.25 L379.87 211.1 L380.05 206.95 L380.23 202.8 L380.42 198.65 L380.6 194.5 L380.78 190.35 L380.97 186.2 L381.15 182.05 L381.33 177.9 L381.52 173.75 L381.7 169.6 L381.88 165.46 L382.07 161.33 L382.25 157.2 L382.43 153.07 L382.62 148.94 L382.8 144.8 L382.96 140.08 L383.1 134.66 L383.24 129.25 L383.41 124.52 L383.62 121.18 L383.9 119.9 L384.26 121.06 L384.69 124.14 L385.16 128.52 L385.66 133.56 L386.14 138.63 L386.6 143.1 L387 147.4 L387.34 151.9 L387.68 156.43 L388.06 160.83 L388.55 164.94 L389.2 168.6 L389.7 170.92 L390.21 173.16 L390.77 175.26 L391.42 177.16 L392.21 178.8 L393.2 180.1 L394.1 180.77 L395.14 181.21 L396.26 181.49 L397.4 181.72 L398.5 181.99 L399.5 182.4 L400.32 182.92 L401.08 183.52 L401.81 184.16 L402.53 184.78 L403.25 185.34 L404 185.8 L404.67 186.08 L405.35 186.27 L406.03 186.41 L406.72 186.55 L407.41 186.73 L408.1 187 L408.93 187.51 L409.77 188.19 L410.62 188.93 L411.47 189.62 L412.33 190.15 L413.2 190.4 L414.05 190.27 L414.92 189.84 L415.8 189.25 L416.68 188.66 L417.55 188.23 L418.4 188.1 L419.26 188.33 L420.11 188.8 L420.94 189.44 L421.78 190.15 L422.63 190.87 L423.5 191.5 L424.44 192.09 L425.4 192.7 L426.37 193.29 L427.34 193.88 L428.32 194.45 L429.3 195 L430.25 195.51 L431.2 196 L432.16 196.48 L433.12 196.94 L434.07 197.38 L435 197.8 L435.82 198.18 L436.6 198.54 L437.37 198.89 L438.17 199.22 L439.04 199.53 L440 199.8 L441.63 200.11 L443.47 200.33 L445.45 200.48 L447.49 200.62 L449.53 200.78 L451.5 201 L453.41 201.33 L455.33 201.75 L457.25 202.19 L459.15 202.58 L461.04 202.84 L462.9 202.9 L464.64 202.71 L466.33 202.31 L468.01 201.8 L469.7 201.25 L471.42 200.76 L473.2 200.4 L475.22 200.15 L477.32 199.97 L479.45 199.84 L481.59 199.78 L483.72 199.76 L485.8 199.8 L487.74 199.91 L489.65 200.11 L491.55 200.36 L493.44 200.62 L495.35 200.85 L497.3 201 L499.42 201.06 L501.61 201.05 L503.82 201.01 L506 200.96 L508.07 200.95 L510 201 L511.33 201.1 L512.54 201.23 L513.69 201.38 L514.85 201.53 L516.07 201.68 L517.4 201.8 L519.4 201.93 L521.61 202.03 L523.91 202.13 L526.23 202.2 L528.45 202.26 L530.5 202.3 L531.95 202.32 L533.31 202.31 L534.62 202.3 L535.91 202.29 L537.23 202.28 L538.6 202.3 L540.22 202.37 L541.91 202.5 L543.62 202.63 L545.33 202.74 L546.97 202.78 L548.5 202.7 L549.66 202.55 L550.73 202.35 L551.77 202.09 L552.8 201.8 L553.87 201.46 L555 201.1 L556.52 200.54 L558.12 199.85 L559.76 199.1 L561.44 198.36 L563.13 197.71 L564.8 197.2 L566.41 196.86 L568.04 196.63 L569.68 196.47 L571.32 196.36 L572.96 196.28 L574.6 196.2 L576.25 196.13 L577.9 196.09 L579.55 196.07 L581.2 196.09 L582.85 196.13 L584.5 196.2 L586.16 196.34 L587.84 196.55 L589.51 196.79 L591.16 197.01 L592.77 197.16 L594.3 197.2 L595.54 197.19 L596.76 197.18 L597.94 197.13 L599.08 196.98 L600.17 196.68 L601.2 196.2 L602.3 195.29 L603.29 194.04 L604.2 192.6 L605.09 191.09 L606.01 189.64 L607 188.4 L607.95 187.44 L608.94 186.53 L609.95 185.67 L610.96 184.87 L611.95 184.14 L612.9 183.5 L613.58 183.05 L614.24 182.62 L614.89 182.23 L615.54 181.9 L616.2 181.65 L616.9 181.5 L617.68 181.54 L618.49 181.78 L619.33 182.1 L620.16 182.41 L620.99 182.58 L621.8 182.5 L622.81 181.99 L623.8 181.13 L624.78 180.06 L625.75 178.87 L626.72 177.68 L627.7 176.6 L628.69 175.58 L629.68 174.52 L630.67 173.45 L631.65 172.43 L632.63 171.5 L633.6 170.7 L634.34 170.19 L635.08 169.76 L635.81 169.38 L636.54 169.03 L637.27 168.68 L638 168.3" fill="none" stroke="#EF5562" stroke-width="2.1" stroke-linejoin="round"/>
<path d="M379.2 239.5 L379.33 239.28 L379.45 239.06 L379.58 238.85 L379.71 238.63 L379.85 238.38 L380 238.1 L380.32 237.55 L380.7 236.95 L381.11 236.28 L381.52 235.52 L381.89 234.67 L382.2 233.7 L382.61 231.36 L382.83 228.46 L382.93 225.19 L382.97 221.73 L383 218.27 L383.1 215 L383.24 211.88 L383.39 208.77 L383.53 205.65 L383.67 202.53 L383.81 199.42 L383.95 196.3 L384.09 193.18 L384.23 190.07 L384.37 186.95 L384.51 183.83 L384.66 180.72 L384.8 177.6 L384.86 174.21 L384.82 170.48 L384.79 166.75 L384.85 163.36 L385.12 160.63 L385.7 158.9 L385.98 158.6 L386.3 158.42 L386.64 158.32 L386.99 158.25 L387.35 158.16 L387.7 158 L388.13 157.66 L388.58 157.21 L389.04 156.73 L389.49 156.31 L389.91 156.04 L390.3 156 L390.77 156.42 L391.17 157.27 L391.52 158.43 L391.85 159.75 L392.2 161.08 L392.6 162.3 L393.08 163.64 L393.55 165.07 L394.05 166.53 L394.6 167.95 L395.24 169.26 L396 170.4 L396.82 171.31 L397.76 172.16 L398.77 172.93 L399.81 173.58 L400.84 174.08 L401.8 174.4 L402.49 174.44 L403.18 174.31 L403.85 174.09 L404.51 173.87 L405.16 173.74 L405.8 173.8 L406.49 174.11 L407.15 174.58 L407.8 175.18 L408.44 175.85 L409.1 176.54 L409.8 177.2 L410.69 178.03 L411.6 178.95 L412.55 179.9 L413.51 180.83 L414.5 181.68 L415.5 182.4 L416.42 182.9 L417.36 183.3 L418.32 183.63 L419.29 183.95 L420.25 184.29 L421.2 184.7 L422.18 185.21 L423.14 185.77 L424.11 186.36 L425.07 186.96 L426.03 187.55 L427 188.1 L427.94 188.63 L428.86 189.17 L429.78 189.71 L430.72 190.2 L431.69 190.64 L432.7 191 L433.83 191.25 L434.99 191.37 L436.18 191.42 L437.42 191.47 L438.69 191.58 L440 191.8 L441.78 192.28 L443.66 192.9 L445.6 193.62 L447.58 194.38 L449.55 195.12 L451.5 195.8 L453.4 196.48 L455.29 197.22 L457.19 197.94 L459.08 198.58 L460.99 199.06 L462.9 199.3 L464.81 199.18 L466.73 198.75 L468.65 198.16 L470.57 197.56 L472.49 197.12 L474.4 197 L476.31 197.23 L478.21 197.71 L480.11 198.34 L482 199.06 L483.9 199.77 L485.8 200.4 L487.7 200.99 L489.6 201.62 L491.5 202.24 L493.41 202.83 L495.34 203.36 L497.3 203.8 L499.39 204.18 L501.55 204.51 L503.74 204.78 L505.9 204.96 L508 205.04 L510 205 L511.58 204.81 L513.08 204.49 L514.53 204.08 L515.97 203.67 L517.45 203.32 L519 203.1 L520.85 203.02 L522.8 203.05 L524.78 203.16 L526.76 203.3 L528.68 203.43 L530.5 203.5 L531.92 203.52 L533.25 203.52 L534.55 203.52 L535.85 203.51 L537.18 203.5 L538.6 203.5 L540.43 203.51 L542.39 203.53 L544.41 203.55 L546.41 203.55 L548.33 203.54 L550.1 203.5 L551.35 203.47 L552.53 203.47 L553.66 203.45 L554.76 203.39 L555.87 203.25 L557 203 L558.28 202.53 L559.54 201.88 L560.81 201.14 L562.1 200.39 L563.42 199.71 L564.8 199.2 L566.34 198.84 L567.95 198.6 L569.6 198.44 L571.27 198.34 L572.94 198.27 L574.6 198.2 L576.25 198.13 L577.9 198.1 L579.55 198.1 L581.2 198.12 L582.85 198.15 L584.5 198.2 L586.14 198.26 L587.77 198.34 L589.4 198.44 L591.04 198.55 L592.67 198.67 L594.3 198.8 L595.93 198.94 L597.57 199.09 L599.2 199.26 L600.84 199.43 L602.47 199.61 L604.1 199.8 L605.77 200.08 L607.49 200.48 L609.21 200.89 L610.88 201.2 L612.46 201.3 L613.9 201.1 L615.04 200.63 L616.07 199.93 L617.04 199.09 L617.96 198.14 L618.87 197.16 L619.8 196.2 L620.82 195.13 L621.84 193.96 L622.84 192.75 L623.82 191.55 L624.78 190.41 L625.7 189.4 L626.35 188.68 L626.95 187.98 L627.53 187.31 L628.14 186.71 L628.81 186.2 L629.6 185.8 L630.77 185.51 L632.11 185.43 L633.56 185.48 L635.06 185.61 L636.55 185.74 L638 185.8" fill="none" stroke="#F8A359" stroke-width="2.1" stroke-linejoin="round"/>
<path d="M379.2 237.5 L379.38 232.15 L379.57 226.81 L379.75 221.46 L379.93 216.11 L380.12 210.77 L380.3 205.42 L380.48 200.1 L380.66 194.78 L380.84 189.46 L381.03 184.14 L381.21 178.8 L381.4 173.45 L381.6 168.03 L381.8 162.59 L382 157.14 L382.2 151.69 L382.4 146.25 L382.6 140.83 L382.79 135.46 L382.97 130.11 L383.16 124.77 L383.34 119.43 L383.52 114.1 L383.7 108.75 L383.88 103.39 L384.07 98.03 L384.25 92.66 L384.43 87.3 L384.62 81.94 L384.8 76.58 L384.96 70.67 L385.08 64.08 L385.21 57.5 L385.36 51.6 L385.58 47.04 L385.9 44.5 L386.3 46.97 L386.74 52.41 L387.24 59.74 L387.86 67.9 L388.63 75.81 L389.6 82.4 L390.31 85.11 L391.12 87.61 L391.99 89.97 L392.87 92.27 L393.72 94.59 L394.5 97 L395.26 99.33 L395.96 101.76 L396.63 104.23 L397.28 106.67 L397.93 109.02 L398.6 111.22 L399.13 112.95 L399.64 114.71 L400.15 116.39 L400.68 117.86 L401.25 119.09 L401.9 119.99 L402.28 120.29 L402.68 120.46 L403.09 120.56 L403.51 120.65 L403.95 120.79 L404.4 121.04 L405.23 121.75 L406.13 122.68 L407.07 123.77 L408.01 124.94 L408.93 126.14 L409.8 127.28 L410.61 128.45 L411.37 129.74 L412.11 131.05 L412.84 132.26 L413.6 133.25 L414.4 133.91 L414.95 134.08 L415.5 134.07 L416.07 133.97 L416.64 133.86 L417.22 133.84 L417.8 134 L418.73 134.62 L419.67 135.57 L420.62 136.73 L421.58 138.01 L422.54 139.28 L423.5 140.44 L424.46 141.51 L425.44 142.57 L426.41 143.63 L427.38 144.7 L428.35 145.78 L429.3 146.88 L430.26 148.06 L431.22 149.3 L432.17 150.56 L433.11 151.8 L434.05 153 L435 154.13 L435.83 155.07 L436.64 155.96 L437.46 156.82 L438.28 157.66 L439.13 158.47 L440 159.27 L440.9 160.07 L441.81 160.88 L442.73 161.67 L443.69 162.42 L444.67 163.08 L445.7 163.63 L446.78 164.01 L447.89 164.26 L449.04 164.44 L450.22 164.59 L451.4 164.79 L452.6 165.1 L453.97 165.66 L455.35 166.37 L456.75 167.14 L458.18 167.87 L459.66 168.48 L461.2 168.85 L463.06 168.9 L465.02 168.62 L467.04 168.18 L469.09 167.7 L471.16 167.29 L473.2 167.1 L475.29 167.25 L477.4 167.65 L479.52 168.17 L481.63 168.68 L483.73 169.07 L485.8 169.2 L487.77 169.06 L489.74 168.75 L491.69 168.32 L493.61 167.83 L495.49 167.34 L497.3 166.9 L498.81 166.54 L500.27 166.16 L501.69 165.71 L503.09 165.28 L504.49 164.87 L505.9 164.51 L507.26 164.19 L508.61 163.9 L509.96 163.63 L511.31 163.39 L512.69 163.18 L514.1 162.99 L515.7 162.82 L517.37 162.66 L519.07 162.54 L520.75 162.52 L522.37 162.62 L523.9 162.8 L525.08 162.99 L526.19 163.23 L527.26 163.5 L528.32 163.81 L529.39 164.17 L530.5 164.56 L531.8 165.1 L533.1 165.72 L534.43 166.4 L535.78 167.09 L537.16 167.76 L538.6 168.37 L540.32 169.04 L542.16 169.77 L544.05 170.46 L545.92 171.05 L547.69 171.47 L549.3 171.63 L550.34 171.54 L551.27 171.3 L552.16 170.96 L553.04 170.59 L553.97 170.24 L555 169.97 L556.47 169.75 L558.06 169.57 L559.72 169.44 L561.43 169.34 L563.13 169.27 L564.8 169.22 L566.48 169.22 L568.23 169.27 L569.97 169.35 L571.65 169.42 L573.22 169.47 L574.6 169.47 L575.38 169.47 L576.1 169.5 L576.78 169.52 L577.41 169.49 L578.01 169.35 L578.6 169.06 L579.37 168.35 L580.05 167.34 L580.67 166.12 L581.27 164.8 L581.87 163.48 L582.5 162.26 L583.13 161.11 L583.72 159.92 L584.32 158.74 L584.94 157.58 L585.63 156.48 L586.4 155.46 L587.26 154.56 L588.2 153.75 L589.2 152.99 L590.23 152.26 L591.27 151.51 L592.3 150.71 L593.43 149.82 L594.59 148.93 L595.77 148.03 L596.94 147.09 L598.09 146.08 L599.2 144.98 L600.4 143.5 L601.53 141.8 L602.63 140 L603.73 138.23 L604.88 136.6 L606.1 135.2 L607.17 134.21 L608.27 133.3 L609.39 132.48 L610.54 131.77 L611.71 131.17 L612.9 130.7 L613.98 130.42 L615.03 130.29 L616.11 130.26 L617.23 130.28 L618.45 130.31 L619.8 130.3 L622.33 130.25 L625.22 130.24 L628.36 130.25 L631.61 130.27 L634.87 130.29 L638 130.3 L638 148.3 L634.87 148.29 L631.61 148.27 L628.36 148.25 L625.22 148.24 L622.33 148.25 L619.8 148.3 L618.45 148.31 L617.23 148.28 L616.11 148.26 L615.03 148.29 L613.98 148.42 L612.9 148.7 L611.71 149.17 L610.54 149.77 L609.39 150.48 L608.27 151.3 L607.17 152.21 L606.1 153.2 L604.88 154.6 L603.73 156.23 L602.63 158 L601.53 159.8 L600.4 161.5 L599.2 163.02 L598.09 164.18 L596.94 165.25 L595.77 166.25 L594.59 167.2 L593.43 168.14 L592.3 169.09 L591.27 169.94 L590.23 170.75 L589.2 171.53 L588.2 172.34 L587.26 173.2 L586.4 174.14 L585.63 175.2 L584.94 176.33 L584.32 177.52 L583.72 178.74 L583.13 179.95 L582.5 181.14 L581.87 182.39 L581.27 183.74 L580.67 185.09 L580.05 186.33 L579.37 187.38 L578.6 188.13 L578.01 188.45 L577.41 188.62 L576.78 188.69 L576.1 188.7 L575.38 188.7 L574.6 188.74 L573.22 188.81 L571.65 188.84 L569.97 188.85 L568.23 188.86 L566.48 188.89 L564.8 188.98 L563.13 189.11 L561.43 189.27 L559.72 189.45 L558.06 189.67 L556.47 189.92 L555 190.22 L553.97 190.54 L553.04 190.93 L552.16 191.35 L551.27 191.74 L550.34 192.03 L549.3 192.17 L547.69 192.08 L545.92 191.76 L544.05 191.26 L542.16 190.66 L540.32 190.03 L538.6 189.44 L537.16 188.9 L535.78 188.3 L534.43 187.68 L533.1 187.06 L531.8 186.51 L530.5 186.04 L529.39 185.7 L528.32 185.4 L527.26 185.14 L526.19 184.92 L525.08 184.74 L523.9 184.6 L522.37 184.5 L520.75 184.48 L519.07 184.44 L517.37 184.4 L515.7 184.39 L514.1 184.41 L512.69 184.45 L511.31 184.52 L509.96 184.62 L508.61 184.76 L507.26 184.91 L505.9 185.1 L504.49 185.32 L503.09 185.59 L501.69 185.88 L500.27 186.18 L498.81 186.54 L497.3 186.9 L495.49 187.34 L493.61 187.83 L491.69 188.32 L489.74 188.75 L487.77 189.06 L485.8 189.2 L483.73 189.07 L481.63 188.68 L479.52 188.17 L477.4 187.65 L475.29 187.25 L473.2 187.1 L471.16 187.29 L469.09 187.77 L467.04 188.41 L465.02 189.02 L463.06 189.45 L461.2 189.55 L459.66 189.3 L458.18 188.82 L456.75 188.2 L455.35 187.54 L453.97 186.94 L452.6 186.5 L451.4 186.28 L450.22 186.17 L449.04 186.11 L447.89 186.03 L446.78 185.87 L445.7 185.57 L444.67 185.13 L443.69 184.59 L442.73 183.98 L441.81 183.31 L440.9 182.62 L440 181.93 L439.13 181.25 L438.28 180.55 L437.46 179.83 L436.64 179.08 L435.83 178.29 L435 177.47 L434.05 176.46 L433.11 175.39 L432.17 174.27 L431.22 173.14 L430.26 172.02 L429.3 170.92 L428.35 169.87 L427.38 168.83 L426.41 167.81 L425.44 166.8 L424.46 165.78 L423.5 164.76 L422.54 163.65 L421.58 162.43 L420.62 161.2 L419.67 160.09 L418.73 159.19 L417.8 158.61 L417.22 158.48 L416.64 158.53 L416.07 158.67 L415.5 158.8 L414.95 158.83 L414.4 158.69 L413.6 158.07 L412.84 157.12 L412.11 155.94 L411.37 154.67 L410.61 153.42 L409.8 152.32 L408.93 151.35 L408.01 150.34 L407.07 149.35 L406.13 148.45 L405.23 147.7 L404.4 147.16 L403.95 147 L403.51 146.94 L403.09 146.94 L402.68 146.92 L402.28 146.83 L401.9 146.61 L401.25 145.84 L400.68 144.72 L400.15 143.36 L399.64 141.91 L399.13 140.42 L398.6 138.98 L397.93 137.15 L397.28 135.15 L396.63 133.06 L395.96 130.96 L395.26 128.92 L394.5 127 L393.72 125.86 L392.87 124.93 L391.99 124.06 L391.12 123.12 L390.31 121.94 L389.6 120.4 L388.63 116.94 L387.86 111.54 L387.24 105.39 L386.74 99.7 L386.3 95.67 L385.9 94.5 L385.58 94.86 L385.36 97.91 L385.21 102.74 L385.08 108.46 L384.96 114.19 L384.8 119.02 L384.62 123.13 L384.43 127.23 L384.25 131.34 L384.07 135.44 L383.88 139.55 L383.7 143.65 L383.52 147.74 L383.34 151.84 L383.16 155.93 L382.97 160.02 L382.79 164.1 L382.6 168.17 L382.4 172.25 L382.2 176.31 L382 180.37 L381.8 184.42 L381.6 188.48 L381.4 192.55 L381.21 196.61 L381.03 200.68 L380.84 204.75 L380.66 208.82 L380.48 212.9 L380.3 216.98 L380.12 221.06 L379.93 225.15 L379.75 229.23 L379.57 233.32 L379.38 237.41 L379.2 241.5Z" fill="#5093D2" fill-opacity="0.28"/>
<path d="M379.5 216.4 L379.68 211.96 L379.87 207.52 L380.05 203.07 L380.23 198.63 L380.42 194.19 L380.6 189.75 L380.78 185.31 L380.97 180.86 L381.15 176.42 L381.33 171.98 L381.52 167.54 L381.7 163.1 L381.88 158.67 L382.07 154.25 L382.25 149.82 L382.43 145.4 L382.62 140.98 L382.8 136.55 L382.96 131.57 L383.1 125.93 L383.24 120.29 L383.41 115.31 L383.62 111.63 L383.9 109.9 L384.26 111.09 L384.69 114.21 L385.16 118.63 L385.66 123.7 L386.14 128.81 L386.6 133.32 L387 137.65 L387.34 142.18 L387.68 146.74 L388.06 151.17 L388.55 155.32 L389.2 159.03 L389.7 161.39 L390.21 163.67 L390.77 165.8 L391.42 167.74 L392.21 169.41 L393.2 170.76 L394.1 171.48 L395.14 171.96 L396.26 172.3 L397.4 172.59 L398.5 172.92 L399.5 173.37 L400.32 173.93 L401.08 174.55 L401.81 175.2 L402.53 175.84 L403.25 176.43 L404 176.9 L404.67 177.19 L405.35 177.4 L406.03 177.56 L406.72 177.72 L407.41 177.92 L408.1 178.2 L408.93 178.73 L409.77 179.44 L410.62 180.2 L411.47 180.91 L412.33 181.46 L413.2 181.73 L414.05 181.62 L414.92 181.21 L415.8 180.65 L416.68 180.08 L417.55 179.67 L418.4 179.56 L419.26 179.81 L420.11 180.31 L420.94 181.01 L421.78 181.79 L422.63 182.57 L423.5 183.26 L424.44 183.93 L425.4 184.6 L426.37 185.27 L427.34 185.93 L428.32 186.58 L429.3 187.2 L430.25 187.78 L431.2 188.34 L432.16 188.89 L433.12 189.42 L434.07 189.93 L435 190.43 L435.82 190.86 L436.6 191.29 L437.37 191.7 L438.17 192.09 L439.04 192.46 L440 192.8 L441.63 193.15 L443.47 193.41 L445.45 193.62 L447.49 193.81 L449.53 194.02 L451.5 194.29 L453.41 194.66 L455.33 195.14 L457.25 195.63 L459.15 196.06 L461.04 196.34 L462.9 196.4 L464.64 196.21 L466.33 195.81 L468.01 195.3 L469.7 194.75 L471.42 194.26 L473.2 193.9 L475.22 193.65 L477.32 193.47 L479.45 193.34 L481.59 193.28 L483.72 193.26 L485.8 193.3 L487.74 193.41 L489.65 193.61 L491.55 193.86 L493.44 194.12 L495.35 194.35 L497.3 194.5 L499.42 194.56 L501.61 194.55 L503.82 194.51 L506 194.46 L508.07 194.45 L510 194.5 L511.33 194.6 L512.54 194.73 L513.69 194.88 L514.85 195.03 L516.07 195.18 L517.4 195.3 L519.4 195.43 L521.61 195.53 L523.91 195.63 L526.23 195.7 L528.45 195.76 L530.5 195.8 L531.95 195.82 L533.31 195.81 L534.62 195.8 L535.91 195.79 L537.23 195.78 L538.6 195.8 L540.22 195.87 L541.91 196 L543.62 196.13 L545.33 196.24 L546.97 196.28 L548.5 196.2 L549.66 196.05 L550.73 195.85 L551.77 195.59 L552.8 195.3 L553.87 194.96 L555 194.6 L556.52 194.04 L558.12 193.35 L559.76 192.6 L561.44 191.86 L563.13 191.21 L564.8 190.7 L566.41 190.36 L568.04 190.13 L569.68 189.97 L571.32 189.86 L572.96 189.78 L574.6 189.7 L576.25 189.63 L577.9 189.59 L579.55 189.57 L581.2 189.59 L582.85 189.63 L584.5 189.7 L586.16 189.84 L587.84 190.05 L589.51 190.29 L591.16 190.51 L592.77 190.66 L594.3 190.7 L595.54 190.69 L596.76 190.68 L597.94 190.63 L599.08 190.48 L600.17 190.18 L601.2 189.7 L602.3 188.79 L603.29 187.54 L604.2 186.1 L605.09 184.59 L606.01 183.14 L607 181.9 L607.95 180.94 L608.94 180.03 L609.95 179.17 L610.96 178.37 L611.95 177.64 L612.9 177 L613.58 176.55 L614.24 176.12 L614.89 175.73 L615.54 175.4 L616.2 175.15 L616.9 175 L617.68 175.04 L618.49 175.28 L619.33 175.6 L620.16 175.91 L620.99 176.08 L621.8 176 L622.81 175.49 L623.8 174.63 L624.78 173.56 L625.75 172.37 L626.72 171.18 L627.7 170.1 L628.69 169.08 L629.68 168.02 L630.67 166.95 L631.65 165.93 L632.63 165 L633.6 164.2 L634.34 163.69 L635.08 163.26 L635.81 162.88 L636.54 162.53 L637.27 162.18 L638 161.8 L638 174.8 L637.27 175.18 L636.54 175.53 L635.81 175.88 L635.08 176.26 L634.34 176.69 L633.6 177.2 L632.63 178 L631.65 178.93 L630.67 179.95 L629.68 181.02 L628.69 182.08 L627.7 183.1 L626.72 184.18 L625.75 185.37 L624.78 186.56 L623.8 187.63 L622.81 188.49 L621.8 189 L620.99 189.08 L620.16 188.91 L619.33 188.6 L618.49 188.28 L617.68 188.04 L616.9 188 L616.2 188.15 L615.54 188.4 L614.89 188.73 L614.24 189.12 L613.58 189.55 L612.9 190 L611.95 190.64 L610.96 191.37 L609.95 192.17 L608.94 193.03 L607.95 193.94 L607 194.9 L606.01 196.14 L605.09 197.59 L604.2 199.1 L603.29 200.54 L602.3 201.79 L601.2 202.7 L600.17 203.18 L599.08 203.48 L597.94 203.63 L596.76 203.68 L595.54 203.69 L594.3 203.7 L592.77 203.66 L591.16 203.51 L589.51 203.29 L587.84 203.05 L586.16 202.84 L584.5 202.7 L582.85 202.63 L581.2 202.59 L579.55 202.57 L577.9 202.59 L576.25 202.63 L574.6 202.7 L572.96 202.78 L571.32 202.86 L569.68 202.97 L568.04 203.13 L566.41 203.36 L564.8 203.7 L563.13 204.21 L561.44 204.86 L559.76 205.6 L558.12 206.35 L556.52 207.04 L555 207.6 L553.87 207.96 L552.8 208.3 L551.77 208.59 L550.73 208.85 L549.66 209.05 L548.5 209.2 L546.97 209.28 L545.33 209.24 L543.62 209.13 L541.91 209 L540.22 208.87 L538.6 208.8 L537.23 208.78 L535.91 208.79 L534.62 208.8 L533.31 208.81 L531.95 208.82 L530.5 208.8 L528.45 208.76 L526.23 208.7 L523.91 208.63 L521.61 208.53 L519.4 208.43 L517.4 208.3 L516.07 208.18 L514.85 208.03 L513.69 207.88 L512.54 207.73 L511.33 207.6 L510 207.5 L508.07 207.45 L506 207.46 L503.82 207.51 L501.61 207.55 L499.42 207.56 L497.3 207.5 L495.35 207.35 L493.44 207.12 L491.55 206.86 L489.65 206.61 L487.74 206.41 L485.8 206.3 L483.72 206.26 L481.59 206.28 L479.45 206.34 L477.32 206.47 L475.22 206.65 L473.2 206.9 L471.42 207.26 L469.7 207.75 L468.01 208.3 L466.33 208.81 L464.64 209.21 L462.9 209.4 L461.04 209.34 L459.15 209.1 L457.25 208.76 L455.33 208.37 L453.41 207.99 L451.5 207.71 L449.53 207.54 L447.49 207.44 L445.45 207.35 L443.47 207.24 L441.63 207.07 L440 206.8 L439.04 206.6 L438.17 206.36 L437.37 206.09 L436.6 205.8 L435.82 205.49 L435 205.18 L434.07 204.82 L433.12 204.45 L432.16 204.06 L431.2 203.66 L430.25 203.24 L429.3 202.8 L428.32 202.33 L427.34 201.83 L426.37 201.32 L425.4 200.79 L424.44 200.26 L423.5 199.74 L422.63 199.17 L421.78 198.52 L420.94 197.86 L420.11 197.29 L419.26 196.84 L418.4 196.64 L417.55 196.79 L416.68 197.25 L415.8 197.86 L414.92 198.46 L414.05 198.92 L413.2 199.07 L412.33 198.84 L411.47 198.34 L410.62 197.67 L409.77 196.95 L408.93 196.29 L408.1 195.8 L407.41 195.55 L406.72 195.38 L406.03 195.26 L405.35 195.13 L404.67 194.96 L404 194.7 L403.25 194.26 L402.53 193.72 L401.81 193.11 L401.08 192.49 L400.32 191.91 L399.5 191.42 L398.5 191.07 L397.4 190.85 L396.26 190.68 L395.14 190.45 L394.1 190.07 L393.2 189.44 L392.21 188.19 L391.42 186.59 L390.77 184.72 L390.21 182.65 L389.7 180.44 L389.2 178.17 L388.55 174.56 L388.06 170.49 L387.68 166.12 L387.34 161.61 L387 157.15 L386.6 152.88 L386.14 148.45 L385.66 143.42 L385.16 138.42 L384.69 134.08 L384.26 131.03 L383.9 129.9 L383.62 130.73 L383.41 133.74 L383.24 138.2 L383.1 143.4 L382.96 148.59 L382.8 153.05 L382.62 156.89 L382.43 160.74 L382.25 164.58 L382.07 168.41 L381.88 172.26 L381.7 176.1 L381.52 179.96 L381.33 183.81 L381.15 187.67 L380.97 191.53 L380.78 195.39 L380.6 199.25 L380.42 203.11 L380.23 206.97 L380.05 210.83 L379.87 214.68 L379.68 218.54 L379.5 222.4Z" fill="#F04E5A" fill-opacity="0.28"/>
<path d="M379.2 238.5 L379.33 238.18 L379.45 237.88 L379.58 237.58 L379.71 237.26 L379.85 236.92 L380 236.53 L380.32 235.75 L380.7 234.88 L381.11 233.91 L381.52 232.86 L381.89 231.74 L382.2 230.34 L382.61 227.26 L382.83 223.96 L382.93 220.51 L382.97 216.99 L383 213.47 L383.1 210.03 L383.24 206.65 L383.39 203.28 L383.53 199.91 L383.67 196.54 L383.81 193.17 L383.95 189.8 L384.09 186.43 L384.23 183.06 L384.37 179.69 L384.51 176.32 L384.66 172.95 L384.8 169.57 L384.86 166.07 L384.82 162.41 L384.79 158.75 L384.85 155.24 L385.12 152.03 L385.7 149.26 L385.98 148.6 L386.3 148.42 L386.64 148.32 L386.99 148.25 L387.35 148.16 L387.7 148 L388.13 147.66 L388.58 147.21 L389.04 146.73 L389.49 146.31 L389.91 146.04 L390.3 146 L390.77 146.42 L391.17 147.27 L391.52 148.43 L391.85 149.75 L392.2 151.1 L392.6 152.34 L393.08 153.71 L393.55 155.17 L394.05 156.66 L394.6 158.11 L395.24 159.46 L396 160.65 L396.82 161.61 L397.76 162.52 L398.77 163.36 L399.81 164.07 L400.84 164.63 L401.8 164.99 L402.49 165.07 L403.18 164.97 L403.85 164.78 L404.51 164.59 L405.16 164.5 L405.8 164.59 L406.49 164.93 L407.15 165.44 L407.8 166.07 L408.44 166.77 L409.1 167.49 L409.8 168.19 L410.69 169.06 L411.6 170.03 L412.55 171.03 L413.51 172 L414.5 172.9 L415.5 173.68 L416.42 174.22 L417.36 174.66 L418.32 175.05 L419.29 175.41 L420.25 175.8 L421.2 176.26 L422.18 176.82 L423.14 177.43 L424.11 178.07 L425.07 178.71 L426.03 179.35 L427 179.95 L427.94 180.53 L428.86 181.12 L429.78 181.69 L430.72 182.24 L431.69 182.73 L432.7 183.13 L433.83 183.44 L434.99 183.62 L436.18 183.73 L437.42 183.84 L438.69 184.01 L440 184.3 L441.78 184.78 L443.66 185.4 L445.6 186.12 L447.58 186.88 L449.55 187.62 L451.5 188.3 L453.4 188.98 L455.29 189.72 L457.19 190.44 L459.08 191.08 L460.99 191.56 L462.9 191.8 L464.81 191.68 L466.73 191.25 L468.65 190.66 L470.57 190.09 L472.49 189.75 L474.4 189.72 L476.31 190.05 L478.21 190.62 L480.11 191.35 L482 192.16 L483.9 192.96 L485.8 193.69 L487.7 194.38 L489.6 195.1 L491.5 195.81 L493.41 196.5 L495.34 197.13 L497.3 197.67 L499.39 198.15 L501.55 198.52 L503.74 198.81 L505.9 199.01 L508 199.11 L510 199.08 L511.58 198.91 L513.08 198.6 L514.53 198.21 L515.97 197.81 L517.45 197.47 L519 197.26 L520.85 197.19 L522.8 197.24 L524.78 197.37 L526.76 197.52 L528.68 197.67 L530.5 197.75 L531.92 197.78 L533.25 197.8 L534.55 197.81 L535.85 197.81 L537.18 197.81 L538.6 197.82 L540.43 197.85 L542.39 197.88 L544.41 197.92 L546.41 197.94 L548.33 197.94 L550.1 197.92 L551.35 197.9 L552.53 197.9 L553.66 197.9 L554.76 197.84 L555.87 197.71 L557 197.47 L558.28 197.02 L559.54 196.38 L560.81 195.65 L562.1 194.9 L563.42 194.23 L564.8 193.73 L566.34 193.38 L567.95 193.15 L569.6 193 L571.27 192.92 L572.94 192.86 L574.6 192.79 L576.25 192.74 L577.9 192.72 L579.55 192.72 L581.2 192.75 L582.85 192.8 L584.5 192.86 L586.14 192.93 L587.77 193.02 L589.4 193.13 L591.04 193.25 L592.67 193.38 L594.3 193.52 L595.93 193.67 L597.57 193.83 L599.2 194.01 L600.84 194.19 L602.47 194.38 L604.1 194.58 L605.77 194.88 L607.49 195.29 L609.21 195.7 L610.88 196.02 L612.46 196.14 L613.9 195.95 L615.04 195.48 L616.07 194.79 L617.04 193.95 L617.96 193.01 L618.87 192.04 L619.8 191.08 L620.82 190.02 L621.84 188.86 L622.84 187.65 L623.82 186.46 L624.78 185.33 L625.7 184.32 L626.35 183.61 L626.95 182.91 L627.53 182.25 L628.14 181.65 L628.81 181.14 L629.6 180.75 L630.77 180.46 L632.11 180.39 L633.56 180.46 L635.06 180.59 L636.55 180.73 L638 180.8 L638 190.8 L636.55 190.75 L635.06 190.63 L633.56 190.51 L632.11 190.46 L630.77 190.55 L629.6 190.85 L628.81 191.26 L628.14 191.77 L627.53 192.38 L626.95 193.05 L626.35 193.76 L625.7 194.48 L624.78 195.5 L623.82 196.64 L622.84 197.84 L621.84 199.06 L620.82 200.24 L619.8 201.32 L618.87 202.28 L617.96 203.27 L617.04 204.22 L616.07 205.08 L615.04 205.77 L613.9 206.25 L612.46 206.47 L610.88 206.37 L609.21 206.07 L607.49 205.68 L605.77 205.29 L604.1 205.02 L602.47 204.84 L600.84 204.67 L599.2 204.51 L597.57 204.35 L595.93 204.21 L594.3 204.08 L592.67 203.96 L591.04 203.85 L589.4 203.75 L587.77 203.66 L586.14 203.59 L584.5 203.54 L582.85 203.51 L581.2 203.48 L579.55 203.47 L577.9 203.49 L576.25 203.53 L574.6 203.61 L572.94 203.69 L571.27 203.77 L569.6 203.88 L567.95 204.05 L566.34 204.3 L564.8 204.67 L563.42 205.19 L562.1 205.87 L560.81 206.64 L559.54 207.39 L558.28 208.05 L557 208.53 L555.87 208.78 L554.76 208.93 L553.66 209 L552.53 209.03 L551.35 209.05 L550.1 209.08 L548.33 209.14 L546.41 209.17 L544.41 209.18 L542.39 209.17 L540.43 209.17 L538.6 209.18 L537.18 209.19 L535.85 209.21 L534.55 209.23 L533.25 209.25 L531.92 209.25 L530.5 209.25 L528.68 209.19 L526.76 209.08 L524.78 208.95 L522.8 208.86 L520.85 208.84 L519 208.94 L517.45 209.18 L515.97 209.54 L514.53 209.96 L513.08 210.38 L511.58 210.72 L510 210.92 L508 210.98 L505.9 210.91 L503.74 210.75 L501.55 210.5 L499.39 210.21 L497.3 209.94 L495.34 209.59 L493.41 209.16 L491.5 208.66 L489.6 208.14 L487.7 207.61 L485.8 207.11 L483.9 206.57 L482 205.96 L480.11 205.34 L478.21 204.8 L476.31 204.42 L474.4 204.28 L472.49 204.5 L470.57 205.03 L468.65 205.66 L466.73 206.25 L464.81 206.68 L462.9 206.8 L460.99 206.56 L459.08 206.08 L457.19 205.44 L455.29 204.72 L453.4 203.98 L451.5 203.3 L449.55 202.62 L447.58 201.88 L445.6 201.12 L443.66 200.4 L441.78 199.78 L440 199.3 L438.69 199.14 L437.42 199.1 L436.18 199.11 L434.99 199.12 L433.83 199.06 L432.7 198.87 L431.69 198.56 L430.72 198.17 L429.78 197.72 L428.86 197.23 L427.94 196.73 L427 196.25 L426.03 195.74 L425.07 195.21 L424.11 194.66 L423.14 194.12 L422.18 193.6 L421.2 193.14 L420.25 192.78 L419.29 192.48 L418.32 192.21 L417.36 191.93 L416.42 191.58 L415.5 191.13 L414.5 190.46 L413.51 189.65 L412.55 188.77 L411.6 187.87 L410.69 187 L409.8 186.21 L409.1 185.58 L408.44 184.92 L407.8 184.29 L407.15 183.72 L406.49 183.28 L405.8 183.01 L405.16 182.98 L404.51 183.14 L403.85 183.39 L403.18 183.65 L402.49 183.82 L401.8 183.81 L400.84 183.54 L399.81 183.1 L398.77 182.51 L397.76 181.8 L396.82 181.01 L396 180.15 L395.24 179.06 L394.6 177.79 L394.05 176.4 L393.55 174.97 L393.08 173.57 L392.6 172.26 L392.2 171.07 L391.85 169.75 L391.52 168.43 L391.17 167.27 L390.77 166.42 L390.3 166 L389.91 166.04 L389.49 166.31 L389.04 166.73 L388.58 167.21 L388.13 167.66 L387.7 168 L387.35 168.16 L386.99 168.25 L386.64 168.32 L386.3 168.42 L385.98 168.6 L385.7 168.54 L385.12 169.24 L384.85 171.48 L384.79 174.75 L384.82 178.55 L384.86 182.34 L384.8 185.63 L384.66 188.48 L384.51 191.34 L384.37 194.21 L384.23 197.07 L384.09 199.94 L383.95 202.8 L383.81 205.66 L383.67 208.53 L383.53 211.39 L383.39 214.26 L383.24 217.12 L383.1 219.97 L383 223.08 L382.97 226.47 L382.93 229.86 L382.83 232.95 L382.61 235.45 L382.2 237.06 L381.89 237.59 L381.52 238.17 L381.11 238.64 L380.7 239.02 L380.32 239.35 L380 239.67 L379.85 239.84 L379.71 239.99 L379.58 240.12 L379.45 240.25 L379.33 240.37 L379.2 240.5Z" fill="#F8A359" fill-opacity="0.28"/>
</g>
<rect x="367.5" y="34.3" width="282.7" height="214.4" fill="none" stroke="#B3B3B3" stroke-width="1.5"/>
<line x1="362.2" y1="239.8" x2="367.5" y2="239.8" stroke="#ACACAC" stroke-width="1.5"/>
<text x="357.6" y="245.05" font-size="14.8" text-anchor="end" fill="#000" class="t">0</text>
<line x1="362.2" y1="166.25" x2="367.5" y2="166.25" stroke="#ACACAC" stroke-width="1.5"/>
<text x="357.6" y="171.5" font-size="14.8" text-anchor="end" fill="#000" class="t">10</text>
<line x1="362.2" y1="92.7" x2="367.5" y2="92.7" stroke="#ACACAC" stroke-width="1.5"/>
<text x="357.6" y="97.95" font-size="14.8" text-anchor="end" fill="#000" class="t">20</text>
<clipPath id="chv"><rect x="48.3" y="263.0" width="282.75" height="214.3"/></clipPath>
<g clip-path="url(#chv)">
<line x1="110.7" y1="263.0" x2="110.7" y2="477.3" stroke="#E6E6E6" stroke-width="1.0"/>
<line x1="212.1" y1="263.0" x2="212.1" y2="477.3" stroke="#E6E6E6" stroke-width="1.0"/>
<line x1="313.5" y1="263.0" x2="313.5" y2="477.3" stroke="#E6E6E6" stroke-width="1.0"/>
<line x1="48.3" y1="439.17" x2="331.05" y2="439.17" stroke="#E6E6E6" stroke-width="1.0"/>
<line x1="48.3" y1="377.7" x2="331.05" y2="377.7" stroke="#E6E6E6" stroke-width="1.0"/>
<line x1="48.3" y1="316.24" x2="331.05" y2="316.24" stroke="#E6E6E6" stroke-width="1.0"/>
<line x1="60" y1="263.0" x2="60" y2="477.3" stroke="#E3E3E3" stroke-width="1.8"/>
<line x1="161.4" y1="263.0" x2="161.4" y2="477.3" stroke="#E3E3E3" stroke-width="1.8"/>
<line x1="262.8" y1="263.0" x2="262.8" y2="477.3" stroke="#E3E3E3" stroke-width="1.8"/>
<line x1="48.3" y1="469.9" x2="331.05" y2="469.9" stroke="#E3E3E3" stroke-width="1.8"/>
<line x1="48.3" y1="408.44" x2="331.05" y2="408.44" stroke="#E3E3E3" stroke-width="1.8"/>
<line x1="48.3" y1="346.97" x2="331.05" y2="346.97" stroke="#E3E3E3" stroke-width="1.8"/>
<line x1="48.3" y1="285.5" x2="331.05" y2="285.5" stroke="#E3E3E3" stroke-width="1.8"/>
<path d="M60.3 337.5 L60.72 335.01 L61.13 332.16 L61.55 329.31 L61.97 326.82 L62.38 325.06 L62.8 324.4 L63.26 325.18 L63.72 327.23 L64.19 330.14 L64.65 333.5 L65.09 336.89 L65.5 339.9 L65.9 342.75 L66.27 345.61 L66.62 348.5 L66.96 351.46 L67.32 354.51 L67.7 357.7 L68.22 361.95 L68.78 366.58 L69.36 371.35 L69.93 376.04 L70.49 380.4 L71 384.2 L71.29 386.27 L71.57 388.13 L71.83 389.86 L72.1 391.53 L72.39 393.22 L72.7 395 L73.07 397.02 L73.45 399.1 L73.85 401.2 L74.28 403.29 L74.73 405.33 L75.2 407.3 L75.65 409.04 L76.12 410.75 L76.6 412.44 L77.11 414.07 L77.64 415.63 L78.2 417.1 L78.67 418.24 L79.15 419.33 L79.64 420.38 L80.16 421.38 L80.71 422.32 L81.3 423.2 L81.86 423.93 L82.45 424.61 L83.06 425.26 L83.7 425.85 L84.34 426.4 L85 426.9 L85.6 427.33 L86.21 427.77 L86.84 428.16 L87.47 428.48 L88.09 428.67 L88.7 428.7 L89.33 428.48 L89.93 428.03 L90.52 427.44 L91.12 426.79 L91.74 426.18 L92.4 425.7 L93.09 425.29 L93.81 424.88 L94.55 424.5 L95.3 424.2 L96.05 424.02 L96.8 424 L97.64 424.23 L98.48 424.69 L99.33 425.31 L100.18 426 L101.03 426.69 L101.9 427.3 L102.82 427.91 L103.78 428.58 L104.74 429.24 L105.69 429.84 L106.58 430.32 L107.4 430.6 L107.87 430.65 L108.3 430.6 L108.71 430.49 L109.11 430.38 L109.54 430.3 L110 430.3 L110.68 430.48 L111.42 430.83 L112.19 431.23 L112.97 431.58 L113.71 431.78 L114.4 431.7 L115.25 431.12 L116.03 430.14 L116.76 428.86 L117.45 427.4 L118.13 425.88 L118.8 424.4 L119.61 422.46 L120.38 420.27 L121.11 417.97 L121.83 415.72 L122.56 413.64 L123.3 411.9 L123.76 410.95 L124.19 410.06 L124.62 409.24 L125.08 408.51 L125.6 407.89 L126.2 407.4 L126.85 407.15 L127.57 407.1 L128.34 407.14 L129.13 407.16 L129.89 407.05 L130.6 406.7 L131.72 405.45 L132.74 403.6 L133.7 401.35 L134.62 398.9 L135.54 396.45 L136.5 394.2 L137.48 392.05 L138.46 389.83 L139.43 387.6 L140.41 385.45 L141.4 383.46 L142.4 381.7 L143.09 380.54 L143.75 379.42 L144.42 378.37 L145.12 377.46 L145.91 376.71 L146.8 376.2 L147.87 375.96 L149.06 375.99 L150.33 376.2 L151.64 376.52 L152.94 376.88 L154.2 377.2 L155.43 377.51 L156.65 377.87 L157.86 378.28 L159.07 378.69 L160.28 379.11 L161.5 379.5 L162.75 379.93 L164.03 380.41 L165.32 380.9 L166.58 381.32 L167.78 381.6 L168.9 381.7 L169.71 381.63 L170.47 381.47 L171.21 381.23 L171.92 380.92 L172.61 380.58 L173.3 380.2 L174 379.75 L174.65 379.22 L175.29 378.64 L175.94 378.03 L176.63 377.41 L177.4 376.8 L178.54 375.89 L179.77 374.83 L181.08 373.75 L182.45 372.78 L183.87 372.05 L185.3 371.7 L186.92 371.83 L188.6 372.4 L190.34 373.25 L192.1 374.25 L193.86 375.25 L195.6 376.1 L197.32 376.84 L199.03 377.59 L200.74 378.34 L202.46 379.08 L204.18 379.8 L205.9 380.5 L207.63 381.22 L209.38 382 L211.14 382.77 L212.87 383.44 L214.57 383.94 L216.2 384.2 L217.48 384.17 L218.7 383.96 L219.88 383.62 L221.08 383.25 L222.3 382.92 L223.6 382.7 L225.24 382.56 L226.98 382.46 L228.77 382.41 L230.56 382.43 L232.29 382.52 L233.9 382.7 L235.16 382.94 L236.37 383.26 L237.53 383.63 L238.67 384.03 L239.79 384.43 L240.9 384.8 L241.91 385.17 L242.91 385.59 L243.89 386.01 L244.86 386.37 L245.83 386.62 L246.8 386.7 L247.78 386.58 L248.75 386.3 L249.72 385.9 L250.69 385.43 L251.69 384.95 L252.7 384.5 L253.87 383.99 L255.07 383.42 L256.29 382.82 L257.52 382.25 L258.76 381.73 L260 381.3 L261.21 380.98 L262.42 380.72 L263.64 380.51 L264.87 380.35 L266.12 380.21 L267.4 380.1 L268.82 380.02 L270.27 380 L271.75 380.02 L273.23 380.05 L274.72 380.08 L276.2 380.1 L277.68 380.13 L279.17 380.18 L280.66 380.24 L282.14 380.26 L283.63 380.23 L285.1 380.1 L286.59 379.85 L288.07 379.48 L289.55 379.05 L291.02 378.61 L292.47 378.21 L293.9 377.9 L295.13 377.69 L296.29 377.53 L297.43 377.39 L298.62 377.28 L299.89 377.18 L301.3 377.1 L303.8 377.01 L306.61 376.99 L309.63 377.01 L312.75 377.04 L315.88 377.08 L318.9 377.1" fill="none" stroke="#5598D5" stroke-width="2.1" stroke-linejoin="round"/>
<path d="M60.4 425.1 L60.71 426.83 L61.02 428.56 L61.32 430.28 L61.64 432.01 L61.96 433.75 L62.3 435.5 L62.66 437.34 L63.03 439.2 L63.4 441.08 L63.8 442.94 L64.23 444.75 L64.7 446.5 L65.15 448.04 L65.61 449.57 L66.1 451.06 L66.62 452.49 L67.18 453.85 L67.8 455.1 L68.34 456.05 L68.91 456.94 L69.5 457.78 L70.13 458.57 L70.79 459.31 L71.5 460 L72.23 460.63 L73 461.21 L73.81 461.75 L74.65 462.24 L75.51 462.69 L76.4 463.1 L77.37 463.5 L78.38 463.89 L79.43 464.23 L80.48 464.49 L81.51 464.66 L82.5 464.7 L83.36 464.62 L84.19 464.46 L85.01 464.21 L85.82 463.89 L86.62 463.52 L87.4 463.1 L88.29 462.57 L89.19 461.96 L90.08 461.28 L90.93 460.53 L91.71 459.7 L92.4 458.8 L93.04 457.62 L93.54 456.28 L93.95 454.84 L94.34 453.36 L94.77 451.89 L95.3 450.5 L95.91 449.12 L96.55 447.7 L97.22 446.29 L97.96 444.96 L98.78 443.74 L99.7 442.7 L100.69 441.96 L101.81 441.39 L103 440.92 L104.19 440.47 L105.31 439.99 L106.3 439.4 L107.02 438.77 L107.65 438.08 L108.24 437.35 L108.8 436.63 L109.38 435.97 L110 435.4 L110.57 435.02 L111.15 434.71 L111.74 434.45 L112.34 434.18 L112.92 433.88 L113.5 433.5 L114.18 432.96 L114.86 432.37 L115.53 431.72 L116.18 431.02 L116.81 430.28 L117.4 429.5 L118.03 428.56 L118.61 427.56 L119.15 426.51 L119.67 425.39 L120.19 424.19 L120.7 422.9 L121.35 420.81 L121.89 418.4 L122.41 415.83 L122.99 413.28 L123.73 410.92 L124.7 408.9 L125.72 407.55 L126.91 406.41 L128.19 405.39 L129.52 404.41 L130.84 403.41 L132.1 402.3 L133.38 401.01 L134.68 399.66 L135.97 398.28 L137.22 396.89 L138.4 395.52 L139.5 394.2 L140.32 393.13 L141.08 392.08 L141.79 391.04 L142.48 390.02 L143.18 389 L143.9 388 L144.6 386.95 L145.28 385.8 L145.97 384.66 L146.69 383.65 L147.45 382.86 L148.3 382.4 L149.18 382.34 L150.12 382.56 L151.11 382.99 L152.14 383.53 L153.17 384.09 L154.2 384.6 L155.36 385.14 L156.54 385.74 L157.72 386.37 L158.94 387.02 L160.19 387.67 L161.5 388.3 L163.16 389.13 L164.94 390.09 L166.78 391.05 L168.6 391.89 L170.33 392.48 L171.9 392.7 L172.92 392.59 L173.86 392.29 L174.75 391.86 L175.62 391.35 L176.49 390.81 L177.4 390.3 L178.43 389.73 L179.45 389.1 L180.48 388.45 L181.53 387.77 L182.63 387.08 L183.8 386.4 L185.36 385.54 L187.03 384.64 L188.76 383.73 L190.54 382.83 L192.33 381.98 L194.1 381.2 L195.8 380.53 L197.5 379.93 L199.21 379.37 L200.94 378.81 L202.7 378.24 L204.5 377.6 L206.66 376.82 L208.95 376.01 L211.28 375.17 L213.57 374.29 L215.74 373.36 L217.7 372.4 L219.1 371.59 L220.37 370.73 L221.58 369.85 L222.74 368.96 L223.9 368.07 L225.1 367.2 L226.33 366.25 L227.56 365.18 L228.79 364.11 L230.01 363.17 L231.21 362.46 L232.4 362.1 L233.37 362.15 L234.36 362.45 L235.33 362.92 L236.28 363.45 L237.17 363.94 L238 364.3 L238.52 364.46 L239 364.59 L239.45 364.69 L239.9 364.8 L240.37 364.93 L240.9 365.1 L241.76 365.44 L242.69 365.87 L243.67 366.35 L244.7 366.82 L245.74 367.25 L246.8 367.6 L247.96 367.87 L249.16 368.08 L250.38 368.25 L251.62 368.38 L252.87 368.49 L254.1 368.6 L255.33 368.71 L256.56 368.8 L257.79 368.88 L259.03 368.94 L260.27 368.98 L261.5 369 L262.72 368.97 L263.92 368.9 L265.13 368.81 L266.35 368.73 L267.6 368.68 L268.9 368.7 L270.53 368.86 L272.24 369.14 L274 369.48 L275.77 369.79 L277.51 370.03 L279.2 370.1 L280.72 369.98 L282.21 369.72 L283.69 369.39 L285.15 369.05 L286.58 368.76 L288 368.6 L289.28 368.6 L290.55 368.72 L291.8 368.88 L293.03 369.02 L294.23 369.08 L295.4 369 L296.44 368.81 L297.46 368.56 L298.46 368.25 L299.43 367.85 L300.38 367.37 L301.3 366.8 L302.34 365.9 L303.31 364.77 L304.25 363.52 L305.19 362.27 L306.17 361.12 L307.2 360.2 L308.13 359.6 L309.1 359.09 L310.09 358.66 L311.09 358.29 L312.1 357.98 L313.1 357.7 L314.06 357.49 L315.02 357.34 L315.99 357.25 L316.96 357.17 L317.93 357.1 L318.9 357" fill="none" stroke="#EF5562" stroke-width="2.1" stroke-linejoin="round"/>
<path d="M61.2 400.8 L61.49 402.07 L61.77 403.31 L62.06 404.56 L62.35 405.83 L62.63 407.13 L62.9 408.5 L63.21 410.22 L63.49 412.02 L63.77 413.88 L64.06 415.76 L64.36 417.64 L64.7 419.5 L65.06 421.38 L65.43 423.29 L65.83 425.21 L66.25 427.08 L66.7 428.89 L67.2 430.6 L67.65 431.95 L68.13 433.23 L68.64 434.47 L69.17 435.67 L69.72 436.84 L70.3 438 L70.86 439.07 L71.44 440.11 L72.04 441.12 L72.67 442.12 L73.32 443.11 L74 444.1 L74.75 445.14 L75.54 446.19 L76.36 447.23 L77.2 448.25 L78.05 449.24 L78.9 450.2 L79.7 451.08 L80.51 451.95 L81.33 452.79 L82.16 453.6 L82.98 454.38 L83.8 455.1 L84.52 455.75 L85.23 456.44 L85.95 457.11 L86.67 457.67 L87.38 458.05 L88.1 458.2 L88.82 458.06 L89.54 457.68 L90.26 457.14 L90.97 456.48 L91.69 455.78 L92.4 455.1 L93.24 454.17 L94.05 453.04 L94.86 451.85 L95.69 450.72 L96.56 449.8 L97.5 449.2 L98.36 449.05 L99.27 449.18 L100.22 449.44 L101.17 449.72 L102.1 449.88 L103 449.8 L103.96 449.4 L104.88 448.77 L105.79 448.01 L106.68 447.18 L107.58 446.35 L108.5 445.6 L109.44 444.93 L110.39 444.28 L111.34 443.64 L112.29 442.98 L113.21 442.31 L114.1 441.6 L114.92 440.84 L115.68 440.03 L116.42 439.19 L117.17 438.37 L117.96 437.59 L118.8 436.9 L119.71 436.3 L120.65 435.78 L121.63 435.31 L122.64 434.85 L123.66 434.39 L124.7 433.9 L125.88 433.32 L127.1 432.72 L128.35 432.12 L129.6 431.52 L130.86 430.91 L132.1 430.3 L133.33 429.71 L134.56 429.14 L135.79 428.57 L137.02 427.98 L138.25 427.33 L139.5 426.6 L140.96 425.58 L142.45 424.39 L143.94 423.13 L145.43 421.9 L146.89 420.82 L148.3 420 L149.3 419.58 L150.24 419.27 L151.18 419.05 L152.13 418.87 L153.12 418.7 L154.2 418.5 L155.78 418.27 L157.51 418.11 L159.32 417.98 L161.14 417.79 L162.89 417.48 L164.5 417 L165.9 416.35 L167.25 415.55 L168.55 414.65 L169.78 413.7 L170.9 412.77 L171.9 411.9 L172.51 411.33 L173.04 410.78 L173.52 410.24 L173.98 409.69 L174.46 409.11 L175 408.5 L175.78 407.68 L176.63 406.83 L177.51 405.94 L178.39 405 L179.24 404.03 L180 403 L180.67 401.77 L181.21 400.41 L181.7 398.99 L182.23 397.6 L182.9 396.31 L183.8 395.2 L185.12 394.17 L186.66 393.3 L188.38 392.57 L190.22 391.93 L192.15 391.36 L194.1 390.8 L196.66 390.13 L199.51 389.49 L202.47 388.94 L205.37 388.53 L208.04 388.3 L210.3 388.3 L211.42 388.45 L212.42 388.7 L213.33 389.01 L214.2 389.36 L215.07 389.7 L216 390 L217 390.31 L218 390.66 L219 391.01 L220.02 391.3 L221.05 391.48 L222.1 391.5 L223.31 391.3 L224.54 390.9 L225.79 390.37 L227.05 389.75 L228.32 389.11 L229.6 388.5 L231.04 387.76 L232.53 386.88 L234.03 385.97 L235.51 385.15 L236.94 384.52 L238.3 384.2 L239.27 384.2 L240.21 384.36 L241.11 384.64 L242 384.98 L242.89 385.35 L243.8 385.7 L244.78 386.07 L245.76 386.5 L246.74 386.95 L247.72 387.4 L248.71 387.83 L249.7 388.2 L250.66 388.53 L251.61 388.86 L252.56 389.16 L253.53 389.42 L254.54 389.6 L255.6 389.7 L256.97 389.66 L258.43 389.47 L259.94 389.18 L261.47 388.84 L263 388.49 L264.5 388.2 L265.96 387.95 L267.41 387.71 L268.86 387.47 L270.32 387.22 L271.79 386.96 L273.3 386.7 L275.01 386.45 L276.82 386.26 L278.64 386.06 L280.42 385.79 L282.09 385.39 L283.6 384.8 L284.76 384.11 L285.81 383.29 L286.77 382.38 L287.68 381.39 L288.58 380.35 L289.5 379.3 L290.53 378.03 L291.53 376.63 L292.51 375.17 L293.47 373.72 L294.44 372.38 L295.4 371.2 L296.12 370.41 L296.82 369.66 L297.52 368.97 L298.23 368.35 L298.99 367.79 L299.8 367.3 L300.67 366.89 L301.57 366.57 L302.51 366.32 L303.5 366.12 L304.56 365.95 L305.7 365.8 L307.59 365.65 L309.7 365.61 L311.96 365.64 L314.3 365.7 L316.64 365.77 L318.9 365.8" fill="none" stroke="#F8A359" stroke-width="2.1" stroke-linejoin="round"/>
<path d="M60.3 275.5 L60.72 274.68 L61.13 273.5 L61.55 272.31 L61.97 271.49 L62.38 271.4 L62.8 272.4 L63.26 276.06 L63.72 281.05 L64.19 286.89 L64.65 293.13 L65.09 299.29 L65.5 304.9 L65.9 309.03 L66.27 313.05 L66.62 317.05 L66.96 321.1 L67.32 325.29 L67.7 329.7 L68.22 335.1 L68.78 340.98 L69.36 347.04 L69.93 352.71 L70.49 357.94 L71 362.53 L71.29 365.06 L71.57 367.35 L71.83 369.49 L72.1 371.57 L72.39 373.71 L72.7 375.98 L73.07 378.57 L73.45 381.24 L73.85 383.97 L74.28 386.17 L74.73 388.03 L75.2 389.8 L75.65 391.35 L76.12 392.87 L76.6 394.84 L77.11 397.49 L77.64 400.11 L78.2 402.7 L78.67 404.78 L79.15 406.83 L79.64 408.42 L80.16 409.51 L80.71 410.55 L81.3 411.54 L81.86 412.36 L82.45 413.16 L83.06 413.91 L83.7 414.62 L84.34 415.29 L85 415.9 L85.6 416.09 L86.21 416.28 L86.84 416.43 L87.47 416.49 L88.09 416.43 L88.7 416.22 L89.33 415.75 L89.93 415.06 L90.52 414.44 L91.12 413.79 L91.74 413.18 L92.4 412.7 L93.09 412.29 L93.81 411.88 L94.55 411.5 L95.3 411.2 L96.05 411.02 L96.8 411 L97.64 411.23 L98.48 411.69 L99.33 412.31 L100.18 413 L101.03 413.69 L101.9 414.3 L102.82 414.91 L103.78 415.58 L104.74 416.24 L105.69 416.76 L106.58 417.12 L107.4 417.3 L107.87 417.29 L108.3 417.18 L108.71 417.03 L109.11 416.87 L109.54 416.74 L110 416.68 L110.68 416.77 L111.42 417.02 L112.19 417.33 L112.97 417.59 L113.71 417.78 L114.4 417.7 L115.25 417.12 L116.03 416.14 L116.76 414.86 L117.45 413.4 L118.13 411.88 L118.8 410.4 L119.61 408.46 L120.38 406.27 L121.11 403.97 L121.83 401.72 L122.56 399.64 L123.3 397.9 L123.76 396.95 L124.19 396.06 L124.62 395.24 L125.08 394.51 L125.6 393.85 L126.2 393.32 L126.85 393.03 L127.57 392.93 L128.34 392.91 L129.13 392.88 L129.89 392.72 L130.6 392.33 L131.72 391 L132.74 389.08 L133.7 386.77 L134.62 384.26 L135.54 381.75 L136.5 379.43 L137.48 377.22 L138.46 374.93 L139.43 372.64 L140.41 370.45 L141.4 368.46 L142.4 366.7 L143.09 365.54 L143.75 364.42 L144.42 363.37 L145.12 362.46 L145.91 361.71 L146.8 361.2 L147.87 361 L149.06 361.08 L150.33 361.34 L151.64 361.72 L152.94 362.14 L154.2 362.51 L155.43 362.88 L156.65 363.29 L157.86 363.75 L159.07 364.22 L160.28 364.69 L161.5 365.13 L162.75 365.61 L164.03 366.15 L165.32 366.69 L166.58 367.17 L167.78 367.51 L168.9 367.65 L169.71 367.62 L170.47 367.5 L171.21 367.31 L171.92 367.05 L172.61 366.75 L173.3 366.42 L174 366.01 L174.65 365.53 L175.29 364.99 L175.94 364.43 L176.63 363.85 L177.4 363.29 L178.54 362.46 L179.77 361.48 L181.08 360.48 L182.45 359.61 L183.87 358.98 L185.3 358.7 L186.92 358.83 L188.6 359.4 L190.34 360.25 L192.1 361.25 L193.86 362.25 L195.6 363.1 L197.32 363.84 L199.03 364.59 L200.74 365.37 L202.46 366.16 L204.18 366.94 L205.9 367.7 L207.63 368.48 L209.38 369.32 L211.14 370.14 L212.87 370.87 L214.57 371.42 L216.2 371.74 L217.48 371.76 L218.7 371.58 L219.88 371.29 L221.08 370.95 L222.3 370.66 L223.6 370.49 L225.24 370.4 L226.98 370.36 L228.77 370.37 L230.56 370.45 L232.29 370.6 L233.9 370.83 L235.16 371.11 L236.37 371.47 L237.53 371.88 L238.67 372.32 L239.79 372.76 L240.9 373.16 L241.91 373.56 L242.91 374.02 L243.89 374.47 L244.86 374.86 L245.83 375.15 L246.8 375.26 L247.78 375.17 L248.75 374.92 L249.72 374.55 L250.69 374.12 L251.69 373.67 L252.7 373.26 L253.87 372.78 L255.07 372.25 L256.29 371.7 L257.52 371.16 L258.76 370.69 L260 370.3 L261.21 370 L262.42 369.76 L263.64 369.57 L264.87 369.43 L266.12 369.32 L267.4 369.23 L268.82 369.17 L270.27 369.18 L271.75 369.22 L273.23 369.28 L274.72 369.34 L276.2 369.38 L277.68 369.43 L279.17 369.51 L280.66 369.59 L282.14 369.64 L283.63 369.63 L285.1 369.53 L286.59 369.3 L288.07 368.96 L289.55 368.56 L291.02 368.15 L292.47 367.77 L293.9 367.48 L295.13 367.3 L296.29 367.15 L297.43 367.04 L298.62 366.94 L299.89 366.87 L301.3 366.81 L303.8 366.77 L306.61 366.79 L309.63 366.86 L312.75 366.95 L315.88 367.05 L318.9 367.1 L318.9 387.6 L315.88 387.6 L312.75 387.59 L309.63 387.58 L306.61 387.59 L303.8 387.64 L301.3 387.74 L299.89 387.84 L298.62 387.95 L297.43 388.07 L296.29 388.21 L295.13 388.39 L293.9 388.61 L292.47 388.93 L291.02 389.35 L289.55 389.8 L288.07 390.24 L286.59 390.62 L285.1 390.88 L283.63 391.02 L282.14 391.07 L280.66 391.06 L279.17 391.02 L277.68 390.97 L276.2 390.96 L274.72 390.96 L273.23 390.94 L271.75 390.91 L270.27 390.91 L268.82 390.95 L267.4 391.04 L266.12 391.16 L264.87 391.3 L263.64 391.48 L262.42 391.7 L261.21 391.97 L260 392.3 L258.76 392.77 L257.52 393.33 L256.29 393.95 L255.07 394.58 L253.87 395.19 L252.7 395.74 L251.69 396.23 L250.69 396.74 L249.72 397.24 L248.75 397.67 L247.78 397.99 L246.8 398.14 L245.83 398.09 L244.86 397.87 L243.89 397.54 L242.91 397.16 L241.91 396.77 L240.9 396.44 L239.79 396.1 L238.67 395.74 L237.53 395.38 L236.37 395.05 L235.16 394.77 L233.9 394.57 L232.29 394.45 L230.56 394.41 L228.77 394.47 L226.98 394.59 L225.24 394.77 L223.6 394.98 L222.3 395.26 L221.08 395.65 L219.88 396.07 L218.7 396.46 L217.48 396.73 L216.2 396.81 L214.57 396.62 L212.87 396.2 L211.14 395.6 L209.38 394.92 L207.63 394.22 L205.9 393.57 L204.18 392.95 L202.46 392.31 L200.74 391.64 L199.03 390.97 L197.32 390.29 L195.6 389.63 L193.86 388.85 L192.1 387.93 L190.34 387.01 L188.6 386.24 L186.92 385.75 L185.3 385.69 L183.87 386.1 L182.45 386.88 L181.08 387.9 L179.77 389.03 L178.54 390.15 L177.4 391.1 L176.63 391.74 L175.94 392.39 L175.29 393.03 L174.65 393.63 L174 394.19 L173.3 394.67 L172.61 395.07 L171.92 395.45 L171.21 395.78 L170.47 396.05 L169.71 396.24 L168.9 396.34 L167.78 396.29 L166.58 396.05 L165.32 395.69 L164.03 395.25 L162.75 394.82 L161.5 394.44 L160.28 394.1 L159.07 393.65 L157.86 393.17 L156.65 392.71 L155.43 392.28 L154.2 391.91 L152.94 391.53 L151.64 391.1 L150.33 390.71 L149.06 390.44 L147.87 390.35 L146.8 390.54 L145.91 391.01 L145.12 391.71 L144.42 392.59 L143.75 393.61 L143.09 394.7 L142.4 395.82 L141.4 397.53 L140.41 399.47 L139.43 401.57 L138.46 403.75 L137.48 405.93 L136.5 408.03 L135.54 410.23 L134.62 412.63 L133.7 415.03 L132.74 417.24 L131.72 419.03 L130.6 420.23 L129.89 420.54 L129.13 420.61 L128.34 420.55 L127.57 420.48 L126.85 420.49 L126.2 420.71 L125.6 421.17 L125.08 421.77 L124.62 422.47 L124.19 423.27 L123.76 424.14 L123.3 425.06 L122.56 426.77 L121.83 428.81 L121.11 431.03 L120.38 433.29 L119.61 435.43 L118.8 437.32 L118.13 438.75 L117.45 440.23 L116.76 441.65 L116.03 442.88 L115.25 443.81 L114.4 444.33 L113.71 444.36 L112.97 444.11 L112.19 443.71 L111.42 443.26 L110.68 442.86 L110 442.63 L109.54 442.61 L109.11 442.66 L108.71 442.74 L108.3 442.82 L107.87 442.84 L107.4 442.76 L106.58 442.42 L105.69 441.89 L104.74 441.27 L103.78 440.7 L102.82 440.12 L101.9 439.6 L101.03 439.08 L100.18 438.47 L99.33 437.86 L98.48 437.33 L97.64 436.95 L96.8 436.8 L96.05 436.9 L95.3 437.15 L94.55 437.38 L93.81 437.39 L93.09 437.45 L92.4 437.52 L91.74 437.68 L91.12 437.99 L90.52 438.34 L89.93 438.64 L89.33 438.79 L88.7 438.7 L88.09 439.17 L87.47 439.48 L86.84 439.68 L86.21 439.8 L85.6 439.86 L85 439.92 L84.34 439.96 L83.7 439.94 L83.06 439.86 L82.45 439.72 L81.86 439.51 L81.3 439.24 L80.71 438.84 L80.16 438.35 L79.64 437.78 L79.15 437.13 L78.67 436.61 L78.2 436.24 L77.64 435.67 L77.11 434.97 L76.6 434.17 L76.12 433.27 L75.65 432.31 L75.2 431.3 L74.73 429.42 L74.28 427.47 L73.85 425.47 L73.45 423.45 L73.07 421.45 L72.7 419.5 L72.39 418.82 L72.1 418.13 L71.83 417.4 L71.57 416.59 L71.29 415.69 L71 414.65 L70.49 412.65 L69.93 410.23 L69.36 406.72 L68.78 402.55 L68.22 398.51 L67.7 395.27 L67.32 394.25 L66.96 393.21 L66.62 392.19 L66.27 391.26 L65.9 390.48 L65.5 389.9 L65.09 388.43 L64.65 386.66 L64.19 385 L63.72 383.81 L63.26 383.48 L62.8 384.4 L62.38 384.23 L61.97 385.16 L61.55 386.81 L61.13 388.83 L60.72 390.85 L60.3 392.5Z" fill="#5093D2" fill-opacity="0.28"/>
<path d="M60.4 417.1 L60.71 418.76 L61.02 420.42 L61.32 422.08 L61.64 423.75 L61.96 425.41 L62.3 427.09 L62.66 428.84 L63.03 430.63 L63.4 432.43 L63.8 434.2 L64.23 435.92 L64.7 437.57 L65.15 439.04 L65.61 440.57 L66.1 442.06 L66.62 443.49 L67.18 444.85 L67.8 446.1 L68.34 447.05 L68.91 447.94 L69.5 448.78 L70.13 449.57 L70.79 450.31 L71.5 451 L72.23 451.63 L73 452.21 L73.81 452.75 L74.65 453.24 L75.51 453.69 L76.4 454.1 L77.37 454.5 L78.38 454.89 L79.43 455.23 L80.48 455.49 L81.51 455.66 L82.5 455.7 L83.36 455.62 L84.19 455.46 L85.01 455.21 L85.82 454.89 L86.62 454.52 L87.4 454.1 L88.29 453.53 L89.19 452.79 L90.08 451.99 L90.93 451.11 L91.71 450.17 L92.4 449.17 L93.04 447.9 L93.54 446.49 L93.95 444.99 L94.34 443.45 L94.77 441.92 L95.3 440.44 L95.91 438.93 L96.55 437.39 L97.22 435.85 L97.96 434.36 L98.78 432.99 L99.7 431.76 L100.69 430.89 L101.81 430.21 L103 429.62 L104.19 429.06 L105.31 428.46 L106.3 427.77 L107.02 427.07 L107.65 426.31 L108.24 425.52 L108.8 424.75 L109.38 424.03 L110 423.4 L110.57 422.9 L111.15 422.48 L111.74 422.1 L112.34 421.71 L112.92 421.29 L113.5 420.8 L114.18 420.13 L114.86 419.4 L115.53 418.61 L116.18 417.79 L116.81 416.92 L117.4 416.02 L118.03 414.95 L118.61 413.84 L119.15 412.68 L119.67 411.45 L120.19 410.15 L120.7 408.76 L121.35 406.54 L121.89 404.02 L122.41 401.35 L122.99 398.69 L123.73 396.17 L124.7 393.96 L125.72 392.41 L126.91 391.03 L128.19 389.75 L129.52 388.51 L130.84 387.3 L132.1 386.02 L133.38 384.56 L134.68 383.04 L135.97 381.48 L137.22 379.93 L138.4 378.4 L139.5 376.93 L140.32 375.76 L141.08 374.6 L141.79 373.47 L142.48 372.35 L143.18 371.25 L143.9 370.15 L144.6 369 L145.28 367.77 L145.97 366.57 L146.69 365.48 L147.45 364.61 L148.3 364.07 L149.18 363.92 L150.12 364.05 L151.11 364.38 L152.14 364.81 L153.17 365.28 L154.2 365.68 L155.36 366.2 L156.54 366.97 L157.72 367.78 L158.94 368.61 L160.19 369.45 L161.5 370.28 L163.16 371.36 L164.94 372.58 L166.78 373.82 L168.6 374.93 L170.33 375.78 L171.9 376.23 L172.92 376.27 L173.86 376.12 L174.75 375.82 L175.62 375.38 L176.49 374.87 L177.4 374.4 L178.43 373.86 L179.45 373.28 L180.48 372.67 L181.53 372.03 L182.63 371.39 L183.8 370.75 L185.36 369.95 L187.03 369.12 L188.76 368.28 L190.54 367.46 L192.33 366.68 L194.1 365.96 L195.8 365.36 L197.5 364.83 L199.21 364.33 L200.94 363.85 L202.7 363.33 L204.5 362.75 L206.66 362.04 L208.95 361.31 L211.28 360.54 L213.57 359.74 L215.74 358.89 L217.7 357.99 L219.1 357.22 L220.37 356.41 L221.58 355.57 L222.74 354.72 L223.9 353.87 L225.1 353.04 L226.33 352.13 L227.56 351.1 L228.79 350.07 L230.01 349.17 L231.21 348.46 L232.4 348.1 L233.37 348.15 L234.36 348.45 L235.33 348.92 L236.28 349.45 L237.17 349.94 L238 350.3 L238.52 350.46 L239 350.59 L239.45 350.69 L239.9 350.8 L240.37 350.93 L240.9 351.1 L241.76 351.44 L242.69 351.87 L243.67 352.35 L244.7 352.82 L245.74 353.28 L246.8 353.68 L247.96 354 L249.16 354.26 L250.38 354.48 L251.62 354.66 L252.87 354.83 L254.1 354.99 L255.33 355.15 L256.56 355.3 L257.79 355.43 L259.03 355.54 L260.27 355.64 L261.5 355.71 L262.72 355.73 L263.92 355.71 L265.13 355.67 L266.35 355.64 L267.6 355.65 L268.9 355.72 L270.53 355.95 L272.24 356.31 L274 356.72 L275.77 357.11 L277.51 357.42 L279.2 357.57 L280.72 357.5 L282.21 357.28 L283.69 356.98 L285.15 356.68 L286.58 356.43 L288 356.3 L289.28 356.33 L290.55 356.48 L291.8 356.67 L293.03 356.84 L294.23 356.94 L295.4 356.88 L296.44 356.72 L297.46 356.5 L298.46 356.21 L299.43 355.84 L300.38 355.37 L301.3 354.8 L302.34 353.9 L303.31 352.77 L304.25 351.52 L305.19 350.27 L306.17 349.12 L307.2 348.2 L308.13 347.6 L309.1 347.09 L310.09 346.66 L311.09 346.29 L312.1 345.98 L313.1 345.7 L314.06 345.49 L315.02 345.34 L315.99 345.25 L316.96 345.17 L317.93 345.1 L318.9 345 L318.9 368 L317.93 368.1 L316.96 368.2 L315.99 368.3 L315.02 368.43 L314.06 368.6 L313.1 368.83 L312.1 369.14 L311.09 369.48 L310.09 369.87 L309.1 370.33 L308.13 370.87 L307.2 371.5 L306.17 372.45 L305.19 373.62 L304.25 374.9 L303.31 376.18 L302.34 377.33 L301.3 378.26 L300.38 378.86 L299.43 379.36 L298.46 379.78 L297.46 380.13 L296.44 380.4 L295.4 380.62 L294.23 380.73 L293.03 380.7 L291.8 380.59 L290.55 380.47 L289.28 380.39 L288 380.42 L286.58 380.62 L285.15 380.95 L283.69 381.33 L282.21 381.7 L280.72 382 L279.2 382.16 L277.51 382.14 L275.77 381.95 L274 381.68 L272.24 381.4 L270.53 381.16 L268.9 381.05 L267.6 381.06 L266.35 381.14 L265.13 381.26 L263.92 381.38 L262.72 381.49 L261.5 381.55 L260.27 381.56 L259.03 381.56 L257.79 381.53 L256.56 381.49 L255.33 381.43 L254.1 381.35 L252.87 381.27 L251.62 381.19 L250.38 381.1 L249.16 380.97 L247.96 380.79 L246.8 380.55 L245.74 380.23 L244.7 379.83 L243.67 379.38 L242.69 378.92 L241.76 378.51 L240.9 378.19 L240.37 378.03 L239.9 377.91 L239.45 377.82 L239 377.72 L238.52 377.6 L238 377.46 L237.17 377.11 L236.28 376.64 L235.33 376.13 L234.36 375.69 L233.37 375.41 L232.4 375.38 L231.21 375.76 L230.01 376.5 L228.79 377.47 L227.56 378.57 L226.33 379.66 L225.1 380.64 L223.9 381.54 L222.74 382.46 L221.58 383.37 L220.37 384.28 L219.1 385.16 L217.7 386.01 L215.74 387.02 L213.57 387.98 L211.28 388.91 L208.95 389.81 L206.66 390.67 L204.5 391.5 L202.7 392.18 L200.94 392.79 L199.21 393.4 L197.5 394.03 L195.8 394.69 L194.1 395.44 L192.33 396.29 L190.54 397.21 L188.76 398.18 L187.03 399.16 L185.36 400.12 L183.8 401.05 L182.63 401.77 L181.53 402.51 L180.48 403.23 L179.45 403.93 L178.43 404.59 L177.4 405.2 L176.49 405.75 L175.62 406.33 L174.75 406.87 L173.86 407.35 L172.92 407.69 L171.9 407.85 L170.33 407.71 L168.6 407.21 L166.78 406.46 L164.94 405.59 L163.16 404.73 L161.5 403.98 L160.19 403.41 L158.94 402.82 L157.72 402.23 L156.54 401.66 L155.36 401.12 L154.2 400.6 L153.17 400.09 L152.14 399.53 L151.11 398.99 L150.12 398.56 L149.18 398.34 L148.3 398.4 L147.45 398.86 L146.69 399.65 L145.97 400.66 L145.28 401.8 L144.6 402.92 L143.9 403.93 L143.18 404.88 L142.48 405.85 L141.79 406.83 L141.08 407.82 L140.32 408.82 L139.5 409.83 L138.4 411.08 L137.22 412.37 L135.97 413.68 L134.68 414.97 L133.38 416.24 L132.1 417.44 L130.84 418.47 L129.52 419.37 L128.19 420.21 L126.91 421.1 L125.72 422.13 L124.7 423.37 L123.73 425.29 L122.99 427.58 L122.41 430.07 L121.89 432.59 L121.35 434.94 L120.7 436.97 L120.19 438.21 L119.67 439.32 L119.15 440.34 L118.61 441.28 L118.03 442.16 L117.4 442.98 L116.81 443.64 L116.18 444.26 L115.53 444.83 L114.86 445.34 L114.18 445.8 L113.5 446.2 L112.92 446.46 L112.34 446.65 L111.74 446.8 L111.15 446.94 L110.57 447.13 L110 447.4 L109.38 447.84 L108.8 448.39 L108.24 448.99 L107.65 449.61 L107.02 450.18 L106.3 450.66 L105.31 451.06 L104.19 451.31 L103 451.52 L101.81 451.75 L100.69 452.1 L99.7 452.58 L98.78 453.25 L97.96 454.14 L97.22 455.18 L96.55 456.31 L95.91 457.48 L95.3 458.62 L94.77 459.75 L94.34 460.96 L93.95 462.21 L93.54 463.4 L93.04 464.44 L92.4 465.24 L91.71 465.73 L90.93 466.09 L90.08 466.33 L89.19 466.9 L88.29 467.45 L87.4 467.91 L86.62 468.28 L85.82 468.6 L85.01 468.85 L84.19 469.04 L83.36 469.15 L82.5 469.24 L81.51 469.26 L80.48 469.17 L79.43 468.98 L78.38 468.72 L77.37 468.41 L76.4 468.07 L75.51 467.78 L74.65 467.49 L73.81 467.15 L73 466.76 L72.23 466.31 L71.5 465.82 L70.79 465.25 L70.13 464.63 L69.5 463.96 L68.91 463.23 L68.34 462.44 L67.8 461.59 L67.18 460.45 L66.62 459.2 L66.1 457.86 L65.61 456.45 L65.15 455.01 L64.7 453.57 L64.23 451.92 L63.8 450.2 L63.4 448.43 L63.03 446.63 L62.66 444.84 L62.3 443.09 L61.96 441.41 L61.64 439.75 L61.32 438.08 L61.02 436.42 L60.71 434.76 L60.4 433.1Z" fill="#F04E5A" fill-opacity="0.28"/>
<path d="M61.2 362.7 L61.49 365.25 L61.77 367.79 L62.06 370.33 L62.35 372.88 L62.63 375.45 L62.9 378.05 L63.21 380.9 L63.49 383.66 L63.77 386.45 L64.06 389.29 L64.36 392.19 L64.7 395.17 L65.06 398.25 L65.43 401.41 L65.83 404.63 L66.25 407.51 L66.7 410.12 L67.2 412.7 L67.65 414.84 L68.13 416.97 L68.64 419.09 L69.17 421.22 L69.72 423.36 L70.3 425.14 L70.86 426.46 L71.44 427.76 L72.04 429.05 L72.67 430.33 L73.32 431.62 L74 432.92 L74.75 434.3 L75.54 435.71 L76.36 437.12 L77.2 438.34 L78.05 439.47 L78.9 440.56 L79.7 441.56 L80.51 442.56 L81.33 443.53 L82.16 444.47 L82.98 445.37 L83.8 446.21 L84.52 446.97 L85.23 447.76 L85.95 448.53 L86.67 449.19 L87.38 449.68 L88.1 449.93 L88.82 449.89 L89.54 449.62 L90.26 449.11 L90.97 448.38 L91.69 447.61 L92.4 446.86 L93.24 445.85 L94.05 444.64 L94.86 443.36 L95.69 442.15 L96.56 441.14 L97.5 440.45 L98.36 440.22 L99.27 440.25 L100.22 440.42 L101.17 440.64 L102.1 440.74 L103 440.6 L103.96 440.13 L104.88 439.45 L105.79 438.62 L106.68 437.73 L107.58 436.84 L108.5 436.03 L109.44 435.3 L110.39 434.59 L111.34 433.88 L112.29 433.17 L113.21 432.43 L114.1 431.66 L114.92 430.85 L115.68 429.99 L116.42 429.11 L117.17 428.24 L117.96 427.42 L118.8 426.68 L119.71 426.03 L120.65 425.45 L121.63 424.92 L122.64 424.4 L123.66 423.88 L124.7 423.33 L125.88 422.68 L127.1 422.01 L128.35 421.34 L129.6 420.66 L130.86 419.98 L132.1 419.3 L133.33 418.71 L134.56 418.14 L135.79 417.57 L137.02 416.98 L138.25 416.33 L139.5 415.6 L140.96 414.58 L142.45 413.39 L143.94 412.13 L145.43 410.9 L146.89 409.82 L148.3 409 L149.3 408.58 L150.24 408.27 L151.18 408.05 L152.13 407.87 L153.12 407.7 L154.2 407.5 L155.78 407.27 L157.51 407.11 L159.32 406.98 L161.14 406.79 L162.89 406.48 L164.5 406 L165.9 405.35 L167.25 404.55 L168.55 403.65 L169.78 402.7 L170.9 401.77 L171.9 400.9 L172.51 400.33 L173.04 399.78 L173.52 399.24 L173.98 398.69 L174.46 398.11 L175 397.5 L175.78 396.68 L176.63 395.83 L177.51 394.94 L178.39 394 L179.24 393.03 L180 392 L180.67 390.77 L181.21 389.41 L181.7 387.99 L182.23 386.6 L182.9 385.31 L183.8 384.2 L185.12 383.17 L186.66 382.3 L188.38 381.57 L190.22 380.93 L192.15 380.36 L194.1 379.8 L196.66 379.13 L199.51 378.49 L202.47 377.94 L205.37 377.53 L208.04 377.3 L210.3 377.3 L211.42 377.45 L212.42 377.7 L213.33 378.01 L214.2 378.36 L215.07 378.7 L216 379 L217 379.31 L218 379.66 L219 380.01 L220.02 380.3 L221.05 380.48 L222.1 380.5 L223.31 380.3 L224.54 379.9 L225.79 379.37 L227.05 378.75 L228.32 378.11 L229.6 377.5 L231.04 376.76 L232.53 375.88 L234.03 374.97 L235.51 374.15 L236.94 373.52 L238.3 373.2 L239.27 373.2 L240.21 373.36 L241.11 373.64 L242 373.98 L242.89 374.35 L243.8 374.7 L244.78 375.07 L245.76 375.52 L246.74 376 L247.72 376.48 L248.71 376.93 L249.7 377.33 L250.66 377.69 L251.61 378.05 L252.56 378.38 L253.53 378.66 L254.54 378.88 L255.6 379 L256.97 379 L258.43 378.85 L259.94 378.61 L261.47 378.31 L263 378.01 L264.5 377.76 L265.96 377.55 L267.41 377.35 L268.86 377.15 L270.32 376.94 L271.79 376.73 L273.3 376.51 L275.01 376.31 L276.82 376.17 L278.64 376.02 L280.42 375.79 L282.09 375.39 L283.6 374.8 L284.76 374.11 L285.81 373.29 L286.77 372.38 L287.68 371.39 L288.58 370.35 L289.5 369.3 L290.53 368.03 L291.53 366.63 L292.51 365.17 L293.47 363.72 L294.44 362.38 L295.4 361.2 L296.12 360.41 L296.82 359.66 L297.52 358.97 L298.23 358.35 L298.99 357.79 L299.8 357.3 L300.67 356.89 L301.57 356.57 L302.51 356.32 L303.5 356.12 L304.56 355.95 L305.7 355.8 L307.59 355.65 L309.7 355.61 L311.96 355.64 L314.3 355.7 L316.64 355.77 L318.9 355.8 L318.9 377.8 L316.64 377.77 L314.3 377.7 L311.96 377.64 L309.7 377.61 L307.59 377.65 L305.7 377.8 L304.56 377.95 L303.5 378.12 L302.51 378.32 L301.57 378.57 L300.67 378.89 L299.8 379.29 L298.99 379.74 L298.23 380.26 L297.52 380.85 L296.82 381.5 L296.12 382.21 L295.4 382.97 L294.44 384.1 L293.47 385.4 L292.51 386.79 L291.53 388.2 L290.53 389.56 L289.5 390.77 L288.58 391.78 L287.68 392.77 L286.77 393.72 L285.81 394.58 L284.76 395.35 L283.6 395.98 L282.09 396.49 L280.42 396.81 L278.64 397.06 L276.82 397.26 L275.01 397.45 L273.3 397.7 L271.79 397.96 L270.32 398.22 L268.86 398.47 L267.41 398.71 L265.96 398.95 L264.5 399.2 L263 399.49 L261.47 399.84 L259.94 400.18 L258.43 400.47 L256.97 400.66 L255.6 400.7 L254.54 400.6 L253.53 400.42 L252.56 400.16 L251.61 399.86 L250.66 399.53 L249.7 399.2 L248.71 398.83 L247.72 398.4 L246.74 397.95 L245.76 397.5 L244.78 397.07 L243.8 396.7 L242.89 396.35 L242 395.98 L241.11 395.64 L240.21 395.36 L239.27 395.2 L238.3 395.2 L236.94 395.52 L235.51 396.15 L234.03 396.97 L232.53 397.88 L231.04 398.76 L229.6 399.5 L228.32 400.11 L227.05 400.75 L225.79 401.37 L224.54 401.9 L223.31 402.3 L222.1 402.5 L221.05 402.48 L220.02 402.3 L219 402.01 L218 401.66 L217 401.31 L216 401 L215.07 400.7 L214.2 400.36 L213.33 400.01 L212.42 399.7 L211.42 399.45 L210.3 399.3 L208.04 399.3 L205.37 399.53 L202.47 399.94 L199.51 400.49 L196.66 401.13 L194.1 401.8 L192.15 402.36 L190.22 402.93 L188.38 403.57 L186.66 404.3 L185.12 405.17 L183.8 406.2 L182.9 407.31 L182.23 408.6 L181.7 409.99 L181.21 411.41 L180.67 412.77 L180 414 L179.24 415.03 L178.39 416 L177.51 416.94 L176.63 417.83 L175.78 418.68 L175 419.5 L174.46 420.11 L173.98 420.69 L173.52 421.24 L173.04 421.78 L172.51 422.33 L171.9 422.9 L170.9 423.77 L169.78 424.7 L168.55 425.65 L167.25 426.55 L165.9 427.35 L164.5 428 L162.89 428.48 L161.14 428.79 L159.32 428.98 L157.51 429.11 L155.78 429.27 L154.2 429.5 L153.12 429.7 L152.13 429.87 L151.18 430.05 L150.24 430.27 L149.3 430.58 L148.3 431 L146.89 431.82 L145.43 432.9 L143.94 434.13 L142.45 435.39 L140.96 436.58 L139.5 437.6 L138.25 438.33 L137.02 438.98 L135.79 439.57 L134.56 440.14 L133.33 440.71 L132.1 441.3 L130.86 441.84 L129.6 442.38 L128.35 442.91 L127.1 443.44 L125.88 443.96 L124.7 444.47 L123.66 444.9 L122.64 445.3 L121.63 445.7 L120.65 446.12 L119.71 446.58 L118.8 447.12 L117.96 447.77 L117.17 448.5 L116.42 449.28 L115.68 450.07 L114.92 450.83 L114.1 451.48 L113.21 452.07 L112.29 452.62 L111.34 453.15 L110.39 453.67 L109.44 454.19 L108.5 454.73 L107.58 455.36 L106.68 456.07 L105.79 456.78 L104.88 457.42 L103.96 457.92 L103 458.2 L102.1 458.16 L101.17 457.87 L100.22 457.47 L99.27 457.03 L98.36 456.72 L97.5 456.7 L96.56 457.11 L95.69 457.86 L94.86 458.82 L94.05 459.85 L93.24 460.82 L92.4 461.58 L91.69 462.12 L90.97 462.68 L90.26 463.19 L89.54 463.75 L88.82 464.23 L88.1 464.47 L87.38 464.43 L86.67 464.14 L85.95 463.69 L85.23 463.13 L84.52 462.54 L83.8 461.99 L82.98 461.38 L82.16 460.85 L81.33 460.27 L80.51 459.66 L79.7 459.02 L78.9 458.37 L78.05 457.65 L77.2 456.9 L76.36 456.12 L75.54 455.42 L74.75 454.77 L74 454.1 L73.32 453.45 L72.67 452.78 L72.04 452.1 L71.44 451.39 L70.86 450.64 L70.3 449.85 L69.72 449.05 L69.17 448.29 L68.64 447.49 L68.13 446.63 L67.65 445.71 L67.2 444.7 L66.7 443.37 L66.25 441.9 L65.83 440.31 L65.43 438.63 L65.06 436.94 L64.7 435.28 L64.36 433.63 L64.06 431.92 L63.77 430.21 L63.49 428.52 L63.21 426.89 L62.9 425.36 L62.63 424.16 L62.35 423.02 L62.06 421.92 L61.77 420.85 L61.49 419.78 L61.2 418.68Z" fill="#F8A359" fill-opacity="0.28"/>
</g>
<rect x="48.3" y="263.0" width="282.75" height="214.3" fill="none" stroke="#B3B3B3" stroke-width="1.5"/>
<line x1="43" y1="469.9" x2="48.3" y2="469.9" stroke="#ACACAC" stroke-width="1.5"/>
<text x="38.4" y="475.15" font-size="14.8" text-anchor="end" fill="#000" class="t">0</text>
<line x1="43" y1="408.44" x2="48.3" y2="408.44" stroke="#ACACAC" stroke-width="1.5"/>
<text x="38.4" y="413.69" font-size="14.8" text-anchor="end" fill="#000" class="t">5</text>
<line x1="43" y1="346.97" x2="48.3" y2="346.97" stroke="#ACACAC" stroke-width="1.5"/>
<text x="38.4" y="352.22" font-size="14.8" text-anchor="end" fill="#000" class="t">10</text>
<line x1="43" y1="285.5" x2="48.3" y2="285.5" stroke="#ACACAC" stroke-width="1.5"/>
<text x="38.4" y="290.75" font-size="14.8" text-anchor="end" fill="#000" class="t">15</text>
<clipPath id="cbv"><rect x="367.5" y="263.0" width="282.70000000000005" height="214.3"/></clipPath>
<g clip-path="url(#cbv)">
<line x1="429.7" y1="263.0" x2="429.7" y2="477.3" stroke="#E6E6E6" stroke-width="1.0"/>
<line x1="531.1" y1="263.0" x2="531.1" y2="477.3" stroke="#E6E6E6" stroke-width="1.0"/>
<line x1="632.5" y1="263.0" x2="632.5" y2="477.3" stroke="#E6E6E6" stroke-width="1.0"/>
<line x1="367.5" y1="450.49" x2="650.2" y2="450.49" stroke="#E6E6E6" stroke-width="1.0"/>
<line x1="367.5" y1="411.67" x2="650.2" y2="411.67" stroke="#E6E6E6" stroke-width="1.0"/>
<line x1="367.5" y1="372.85" x2="650.2" y2="372.85" stroke="#E6E6E6" stroke-width="1.0"/>
<line x1="367.5" y1="334.03" x2="650.2" y2="334.03" stroke="#E6E6E6" stroke-width="1.0"/>
<line x1="367.5" y1="295.21" x2="650.2" y2="295.21" stroke="#E6E6E6" stroke-width="1.0"/>
<line x1="379" y1="263.0" x2="379" y2="477.3" stroke="#E3E3E3" stroke-width="1.8"/>
<line x1="480.4" y1="263.0" x2="480.4" y2="477.3" stroke="#E3E3E3" stroke-width="1.8"/>
<line x1="581.8" y1="263.0" x2="581.8" y2="477.3" stroke="#E3E3E3" stroke-width="1.8"/>
<line x1="367.5" y1="469.9" x2="650.2" y2="469.9" stroke="#E3E3E3" stroke-width="1.8"/>
<line x1="367.5" y1="431.08" x2="650.2" y2="431.08" stroke="#E3E3E3" stroke-width="1.8"/>
<line x1="367.5" y1="392.26" x2="650.2" y2="392.26" stroke="#E3E3E3" stroke-width="1.8"/>
<line x1="367.5" y1="353.44" x2="650.2" y2="353.44" stroke="#E3E3E3" stroke-width="1.8"/>
<line x1="367.5" y1="314.62" x2="650.2" y2="314.62" stroke="#E3E3E3" stroke-width="1.8"/>
<line x1="367.5" y1="275.8" x2="650.2" y2="275.8" stroke="#E3E3E3" stroke-width="1.8"/>
<path d="M379.9 397 L380.32 397.38 L380.76 397.72 L381.19 398.06 L381.61 398.44 L382.02 398.91 L382.4 399.5 L383.07 401.22 L383.62 403.49 L384.09 406.11 L384.55 408.9 L385.03 411.66 L385.6 414.2 L386.21 416.45 L386.85 418.68 L387.52 420.88 L388.22 423.05 L388.94 425.19 L389.7 427.3 L390.44 429.27 L391.19 431.22 L391.97 433.15 L392.79 435.03 L393.66 436.89 L394.6 438.7 L395.59 440.46 L396.63 442.2 L397.73 443.91 L398.86 445.57 L400.02 447.14 L401.2 448.6 L402.23 449.83 L403.27 451.05 L404.33 452.21 L405.41 453.25 L406.53 454.14 L407.7 454.8 L408.75 455.15 L409.83 455.31 L410.95 455.35 L412.07 455.33 L413.19 455.33 L414.3 455.4 L415.39 455.58 L416.47 455.81 L417.56 456.06 L418.64 456.27 L419.72 456.4 L420.8 456.4 L421.9 456.24 L422.98 455.96 L424.07 455.6 L425.16 455.17 L426.27 454.73 L427.4 454.3 L428.75 453.78 L430.16 453.18 L431.6 452.55 L433.01 451.95 L434.36 451.41 L435.6 451 L436.4 450.79 L437.15 450.63 L437.86 450.51 L438.56 450.4 L439.27 450.31 L440 450.2 L440.79 450.11 L441.59 450.07 L442.39 450.03 L443.21 449.96 L444.04 449.83 L444.9 449.6 L446.06 449.09 L447.25 448.37 L448.47 447.54 L449.71 446.7 L450.99 445.92 L452.3 445.3 L453.66 444.86 L455.07 444.53 L456.5 444.27 L457.95 444.04 L459.42 443.8 L460.9 443.5 L462.5 443.08 L464.12 442.6 L465.75 442.1 L467.4 441.64 L469.05 441.25 L470.7 441 L472.32 440.95 L473.95 441.07 L475.58 441.27 L477.21 441.45 L478.85 441.53 L480.5 441.4 L482.33 441 L484.18 440.42 L486.04 439.71 L487.89 438.92 L489.71 438.1 L491.5 437.3 L493.19 436.52 L494.87 435.68 L496.53 434.81 L498.15 433.96 L499.75 433.14 L501.3 432.4 L502.59 431.84 L503.86 431.33 L505.1 430.86 L506.32 430.39 L507.52 429.91 L508.7 429.4 L509.77 428.89 L510.8 428.35 L511.8 427.81 L512.82 427.26 L513.88 426.72 L515 426.2 L516.46 425.61 L518.04 425.04 L519.68 424.48 L521.3 423.91 L522.87 423.32 L524.3 422.7 L525.38 422.16 L526.41 421.63 L527.38 421.07 L528.33 420.49 L529.26 419.87 L530.2 419.2 L531.2 418.38 L532.17 417.45 L533.14 416.48 L534.09 415.52 L535.04 414.64 L536 413.9 L536.78 413.37 L537.54 412.88 L538.31 412.43 L539.08 412.05 L539.87 411.77 L540.7 411.6 L541.6 411.58 L542.52 411.7 L543.46 411.93 L544.44 412.22 L545.44 412.53 L546.5 412.8 L547.93 413.13 L549.43 413.49 L551 413.88 L552.61 414.28 L554.25 414.69 L555.9 415.1 L557.78 415.57 L559.71 416.06 L561.67 416.56 L563.65 417.06 L565.64 417.54 L567.6 418 L569.51 418.43 L571.4 418.83 L573.29 419.22 L575.2 419.61 L577.16 420 L579.2 420.4 L581.77 420.89 L584.53 421.41 L587.36 421.92 L590.14 422.42 L592.72 422.89 L595 423.3 L596.26 423.53 L597.37 423.75 L598.41 423.95 L599.43 424.14 L600.51 424.32 L601.7 424.5 L603.46 424.74 L605.36 424.97 L607.34 425.18 L609.38 425.38 L611.41 425.56 L613.4 425.7 L615.34 425.81 L617.28 425.88 L619.21 425.92 L621.16 425.95 L623.12 425.98 L625.1 426 L627.21 426.02 L629.35 426.02 L631.51 426.02 L633.68 426.01 L635.84 426 L638 426" fill="none" stroke="#5598D5" stroke-width="2.1" stroke-linejoin="round"/>
<path d="M379.1 411.7 L379.5 413.73 L379.91 415.73 L380.31 417.74 L380.72 419.77 L381.11 421.84 L381.5 424 L381.92 426.62 L382.31 429.36 L382.69 432.17 L383.09 434.99 L383.52 437.75 L384 440.4 L384.47 442.73 L384.95 445.04 L385.45 447.32 L386.01 449.51 L386.61 451.58 L387.3 453.5 L387.88 454.93 L388.49 456.32 L389.13 457.63 L389.82 458.84 L390.57 459.91 L391.4 460.8 L392.11 461.38 L392.84 461.85 L393.61 462.23 L394.44 462.54 L395.33 462.79 L396.3 463 L397.92 463.14 L399.76 463.07 L401.74 462.88 L403.78 462.66 L405.79 462.5 L407.7 462.5 L409.39 462.66 L411.03 462.9 L412.65 463.2 L414.27 463.53 L415.92 463.84 L417.6 464.1 L419.45 464.34 L421.33 464.57 L423.24 464.78 L425.16 464.98 L427.09 465.15 L429 465.3 L430.96 465.46 L432.99 465.63 L435.01 465.78 L436.98 465.87 L438.83 465.86 L440.5 465.7 L441.56 465.51 L442.51 465.28 L443.41 465 L444.28 464.65 L445.16 464.22 L446.1 463.7 L447.47 462.77 L448.88 461.59 L450.32 460.27 L451.77 458.89 L453.24 457.53 L454.7 456.3 L456.14 455.25 L457.63 454.27 L459.13 453.32 L460.6 452.35 L462 451.33 L463.3 450.2 L464.43 448.91 L465.43 447.44 L466.38 445.91 L467.31 444.45 L468.3 443.17 L469.4 442.2 L470.34 441.68 L471.29 441.32 L472.27 441.08 L473.3 440.91 L474.41 440.77 L475.6 440.6 L477.53 440.34 L479.67 440.13 L481.95 439.97 L484.32 439.86 L486.73 439.81 L489.1 439.8 L491.74 439.95 L494.5 440.26 L497.29 440.64 L500.04 440.97 L502.63 441.12 L505 441 L506.61 440.69 L508.09 440.24 L509.5 439.69 L510.86 439.09 L512.21 438.48 L513.6 437.9 L515.03 437.32 L516.47 436.71 L517.9 436.09 L519.31 435.48 L520.68 434.91 L522 434.4 L523.02 434.07 L524 433.8 L524.95 433.56 L525.89 433.31 L526.83 433 L527.8 432.6 L528.98 431.97 L530.2 431.21 L531.42 430.37 L532.63 429.51 L533.79 428.71 L534.9 428 L535.71 427.51 L536.49 427.04 L537.23 426.6 L537.98 426.19 L538.73 425.82 L539.5 425.5 L540.25 425.24 L540.99 425.02 L541.75 424.84 L542.52 424.69 L543.33 424.58 L544.2 424.5 L545.42 424.44 L546.71 424.45 L548.07 424.51 L549.48 424.63 L550.93 424.79 L552.4 425 L554.22 425.35 L556.1 425.82 L558.03 426.36 L560.01 426.93 L562.04 427.49 L564.1 428 L566.5 428.51 L568.97 429.01 L571.5 429.49 L574.07 429.96 L576.64 430.43 L579.2 430.9 L581.89 431.4 L584.69 431.91 L587.49 432.42 L590.21 432.92 L592.75 433.38 L595 433.8 L596.26 434.05 L597.37 434.27 L598.41 434.49 L599.43 434.69 L600.51 434.9 L601.7 435.1 L603.46 435.37 L605.36 435.64 L607.34 435.9 L609.38 436.15 L611.41 436.38 L613.4 436.6 L615.34 436.79 L617.28 436.96 L619.21 437.12 L621.16 437.27 L623.12 437.43 L625.1 437.6 L627.21 437.79 L629.35 437.99 L631.51 438.19 L633.68 438.39 L635.84 438.6 L638 438.8" fill="none" stroke="#EF5562" stroke-width="2.1" stroke-linejoin="round"/>
<path d="M379.4 298.8 L379.85 303.18 L380.3 307.58 L380.74 311.97 L381.19 316.35 L381.64 320.7 L382.1 325 L382.55 329.12 L383.01 333.26 L383.47 337.37 L383.93 341.4 L384.37 345.29 L384.8 349 L385.13 351.87 L385.45 354.64 L385.75 357.31 L386.06 359.91 L386.37 362.47 L386.7 365 L387 367.26 L387.28 369.47 L387.58 371.64 L387.89 373.78 L388.23 375.9 L388.6 378 L389 379.97 L389.45 381.91 L389.92 383.83 L390.4 385.73 L390.86 387.62 L391.3 389.5 L391.69 391.28 L392.06 393.03 L392.42 394.78 L392.77 396.52 L393.13 398.26 L393.5 400 L393.86 401.76 L394.22 403.54 L394.57 405.31 L394.95 407.07 L395.35 408.81 L395.8 410.5 L396.27 412.06 L396.76 413.6 L397.29 415.11 L397.84 416.59 L398.41 418.06 L399 419.5 L399.56 420.84 L400.11 422.15 L400.69 423.43 L401.31 424.71 L402 425.99 L402.8 427.3 L403.93 428.94 L405.21 430.64 L406.6 432.35 L408.05 434.02 L409.54 435.62 L411 437.1 L412.33 438.37 L413.68 439.6 L415.06 440.77 L416.45 441.85 L417.83 442.8 L419.2 443.6 L420.29 444.15 L421.38 444.65 L422.46 445.07 L423.54 445.39 L424.62 445.57 L425.7 445.6 L426.79 445.41 L427.87 445 L428.95 444.46 L430.04 443.85 L431.15 443.28 L432.3 442.8 L433.59 442.38 L434.91 441.98 L436.26 441.61 L437.64 441.27 L439.05 440.97 L440.5 440.7 L442.2 440.51 L443.98 440.44 L445.81 440.41 L447.63 440.35 L449.37 440.17 L451 439.8 L452.33 439.28 L453.57 438.63 L454.76 437.89 L455.93 437.09 L457.13 436.28 L458.4 435.5 L459.93 434.6 L461.5 433.66 L463.11 432.7 L464.77 431.75 L466.46 430.84 L468.2 430 L470.14 429.18 L472.14 428.43 L474.19 427.72 L476.28 427.04 L478.39 426.37 L480.5 425.7 L482.73 424.95 L485.02 424.16 L487.32 423.37 L489.61 422.66 L491.85 422.09 L494 421.7 L495.71 421.56 L497.37 421.54 L498.98 421.62 L500.58 421.76 L502.18 421.89 L503.8 422 L505.43 422.08 L507.05 422.15 L508.68 422.24 L510.3 422.34 L511.94 422.46 L513.6 422.6 L515.4 422.84 L517.26 423.19 L519.14 423.56 L520.98 423.86 L522.72 424 L524.3 423.9 L525.43 423.63 L526.51 423.24 L527.52 422.74 L528.48 422.19 L529.37 421.6 L530.2 421 L530.84 420.47 L531.41 419.91 L531.94 419.33 L532.45 418.72 L532.96 418.11 L533.5 417.5 L534.11 416.83 L534.73 416.14 L535.35 415.44 L535.97 414.75 L536.59 414.06 L537.2 413.4 L537.75 412.79 L538.28 412.19 L538.82 411.59 L539.35 411.01 L539.91 410.48 L540.5 410 L541.06 409.59 L541.62 409.22 L542.2 408.87 L542.81 408.57 L543.47 408.31 L544.2 408.1 L545.36 407.9 L546.66 407.79 L548.06 407.78 L549.51 407.83 L550.97 407.95 L552.4 408.1 L553.91 408.34 L555.43 408.66 L556.96 409.05 L558.51 409.49 L560.09 409.95 L561.7 410.4 L563.58 410.93 L565.5 411.51 L567.47 412.12 L569.45 412.73 L571.43 413.33 L573.4 413.9 L575.36 414.44 L577.33 414.98 L579.3 415.5 L581.26 416.01 L583.2 416.47 L585.1 416.9 L586.81 417.24 L588.53 417.55 L590.22 417.83 L591.87 418.09 L593.47 418.34 L595 418.6 L596.17 418.81 L597.26 419 L598.32 419.19 L599.38 419.38 L600.49 419.58 L601.7 419.8 L603.46 420.13 L605.36 420.49 L607.35 420.87 L609.38 421.26 L611.41 421.64 L613.4 422 L615.34 422.34 L617.27 422.69 L619.21 423.03 L621.15 423.35 L623.11 423.64 L625.1 423.9 L627.21 424.12 L629.35 424.31 L631.51 424.46 L633.67 424.6 L635.84 424.74 L638 424.9" fill="none" stroke="#F8A359" stroke-width="2.1" stroke-linejoin="round"/>
<path d="M379.9 377 L380.32 377.71 L380.76 378.48 L381.19 379.25 L381.61 380.06 L382.02 380.94 L382.4 382.17 L383.07 385.01 L383.62 388.19 L384.09 391.6 L384.55 395.15 L385.03 398.66 L385.6 401.2 L386.21 403.45 L386.85 405.68 L387.52 407.88 L388.22 410.05 L388.94 412.19 L389.7 414.77 L390.44 417.23 L391.19 419.69 L391.97 422.13 L392.79 424.56 L393.66 427 L394.6 429.43 L395.59 431.81 L396.63 434.18 L397.73 436.55 L398.86 438.88 L400.02 441.14 L401.2 442.72 L402.23 444.05 L403.27 445.38 L404.33 446.64 L405.41 447.8 L406.53 448.79 L407.7 449.57 L408.75 450.02 L409.83 450.29 L410.95 450.35 L412.07 450.33 L413.19 450.33 L414.3 450.4 L415.39 450.58 L416.47 450.81 L417.56 451.06 L418.64 451.27 L419.72 451.4 L420.8 451.4 L421.9 451.24 L422.98 450.96 L424.07 450.6 L425.16 450.17 L426.27 449.73 L427.4 449.3 L428.75 448.78 L430.16 448.18 L431.6 447.55 L433.01 446.95 L434.36 446.41 L435.6 446 L436.4 445.79 L437.15 445.63 L437.86 445.51 L438.56 445.4 L439.27 445.31 L440 445.2 L440.79 445.1 L441.59 445.05 L442.39 445 L443.21 444.92 L444.04 444.78 L444.9 444.54 L446.06 444.01 L447.25 443.28 L448.47 442.44 L449.71 441.57 L450.99 440.78 L452.3 440.15 L453.66 439.69 L455.07 439.34 L456.5 439.06 L457.95 438.82 L459.42 438.56 L460.9 438.24 L462.5 437.8 L464.12 437.3 L465.75 436.78 L467.4 436.3 L469.05 435.89 L470.7 435.62 L472.32 435.54 L473.95 435.65 L475.58 435.83 L477.21 435.99 L478.85 436.04 L480.5 435.9 L482.33 435.48 L484.18 434.89 L486.04 434.16 L487.89 433.35 L489.71 432.51 L491.5 431.7 L493.19 430.91 L494.87 430.06 L496.53 429.18 L498.15 428.31 L499.75 427.48 L501.3 426.72 L502.59 426.15 L503.86 425.64 L505.1 425.15 L506.32 424.67 L507.52 424.18 L508.7 423.66 L509.77 423.14 L510.8 422.6 L511.8 422.04 L512.82 421.49 L513.88 420.94 L515 420.41 L516.46 419.8 L518.04 419.22 L519.68 418.65 L521.3 418.07 L522.87 417.47 L524.3 416.83 L525.38 416.29 L526.41 415.74 L527.38 415.18 L528.33 414.59 L529.26 413.96 L530.2 413.28 L531.2 412.45 L532.17 411.52 L533.14 410.54 L534.09 409.57 L535.04 408.69 L536 407.93 L536.78 407.4 L537.54 406.9 L538.31 406.44 L539.08 406.06 L539.87 405.77 L540.7 405.64 L541.6 405.66 L542.52 405.83 L543.46 406.11 L544.44 406.44 L545.44 406.8 L546.5 407.13 L547.93 407.53 L549.43 407.96 L551 408.43 L552.61 408.91 L554.25 409.4 L555.9 409.9 L557.78 410.46 L559.71 411.04 L561.67 411.57 L563.65 412.08 L565.64 412.58 L567.6 413.05 L569.51 413.49 L571.4 413.91 L573.29 414.31 L575.2 414.71 L577.16 415.11 L579.2 415.52 L581.77 416.03 L584.53 416.56 L587.36 417.1 L590.14 417.62 L592.72 418.1 L595 418.52 L596.26 418.77 L597.37 418.99 L598.41 419.2 L599.43 419.39 L600.51 419.58 L601.7 419.77 L603.46 420.01 L605.36 420.26 L607.34 420.49 L609.38 420.7 L611.41 420.89 L613.4 421.04 L615.34 421.16 L617.28 421.24 L619.21 421.3 L621.16 421.35 L623.12 421.38 L625.1 421.42 L627.21 421.45 L629.35 421.47 L631.51 421.48 L633.68 421.48 L635.84 421.49 L638 421.5 L638 430.5 L635.84 430.56 L633.68 430.62 L631.51 430.69 L629.35 430.75 L627.21 430.8 L625.1 430.83 L623.12 430.86 L621.16 430.89 L619.21 430.91 L617.28 430.91 L615.34 430.89 L613.4 430.84 L611.41 430.74 L609.38 430.62 L607.34 430.48 L605.36 430.31 L603.46 430.13 L601.7 429.94 L600.51 429.79 L599.43 429.64 L598.41 429.47 L597.37 429.3 L596.26 429.11 L595 428.91 L592.72 428.56 L590.14 428.16 L587.36 427.73 L584.53 427.29 L581.77 426.85 L579.2 426.51 L577.16 426.38 L575.2 426.25 L573.29 426.12 L571.4 425.98 L569.51 425.82 L567.6 425.65 L565.64 425.46 L563.65 425.24 L561.67 425 L559.71 424.76 L557.78 424.53 L555.9 424.31 L554.25 424.12 L552.61 423.93 L551 423.75 L549.43 423.44 L547.93 422.92 L546.5 422.45 L545.44 422.07 L544.44 421.67 L543.46 421.28 L542.52 420.95 L541.6 420.74 L540.7 420.67 L539.87 420.76 L539.08 420.96 L538.31 421.26 L537.54 421.63 L536.78 422.05 L536 422.5 L535.04 423.15 L534.09 423.93 L533.14 424.79 L532.17 425.67 L531.2 426.5 L530.2 427.22 L529.26 427.83 L528.33 428.41 L527.38 428.94 L526.41 429.45 L525.38 429.93 L524.3 430.41 L522.87 430.97 L521.3 431.48 L519.68 431.96 L518.04 432.44 L516.46 432.93 L515 433.45 L513.88 433.92 L512.82 434.4 L511.8 434.9 L510.8 435.39 L509.77 435.87 L508.7 436.33 L507.52 436.79 L506.32 437.21 L505.1 437.61 L503.86 438.03 L502.59 438.47 L501.3 438.96 L499.75 439.63 L498.15 440.36 L496.53 441.14 L494.87 441.92 L493.19 442.68 L491.5 443.37 L489.71 444.08 L487.89 444.81 L486.04 445.51 L484.18 446.13 L482.33 446.62 L480.5 446.92 L478.85 447.02 L477.21 446.92 L475.58 446.71 L473.95 446.49 L472.32 446.35 L470.7 446.38 L469.05 446.62 L467.4 446.98 L465.75 447.43 L464.12 447.9 L462.5 448.36 L460.9 448.76 L459.42 449.04 L457.95 449.27 L456.5 449.48 L455.07 449.72 L453.66 450.03 L452.3 450.45 L450.99 451.06 L449.71 451.82 L448.47 452.65 L447.25 453.46 L446.06 454.16 L444.9 454.66 L444.04 454.88 L443.21 455 L442.39 455.06 L441.59 455.09 L440.79 455.12 L440 455.2 L439.27 455.31 L438.56 455.4 L437.86 455.51 L437.15 455.63 L436.4 455.79 L435.6 456 L434.36 456.41 L433.01 456.95 L431.6 457.55 L430.16 458.18 L428.75 458.78 L427.4 459.3 L426.27 459.73 L425.16 460.17 L424.07 460.6 L422.98 460.96 L421.9 461.24 L420.8 461.4 L419.72 461.4 L418.64 461.27 L417.56 461.06 L416.47 460.81 L415.39 460.58 L414.3 460.4 L413.19 460.33 L412.07 460.33 L410.95 460.35 L409.83 460.33 L408.75 460.34 L407.7 460.15 L406.53 459.65 L405.41 458.94 L404.33 458.06 L403.27 457.06 L402.23 456 L401.2 454.92 L400.02 453.63 L398.86 452.41 L397.73 451.09 L396.63 449.71 L395.59 448.28 L394.6 446.9 L393.66 445.56 L392.79 444.14 L391.97 442.66 L391.19 441.13 L390.44 439.56 L389.7 437.95 L388.94 436.19 L388.22 434.05 L387.52 431.88 L386.85 429.68 L386.21 427.45 L385.6 425.2 L385.03 422.66 L384.55 419.99 L384.09 417.29 L383.62 414.76 L383.07 412.6 L382.4 411.02 L382.02 410.5 L381.61 410.12 L381.19 409.82 L380.76 409.57 L380.32 409.32 L379.9 409Z" fill="#5093D2" fill-opacity="0.28"/>
<path d="M379.1 406.7 L379.5 408.73 L379.91 410.73 L380.31 412.74 L380.72 414.77 L381.11 416.84 L381.5 419 L381.92 421.62 L382.31 424.36 L382.69 427.17 L383.09 429.99 L383.52 432.75 L384 435.4 L384.47 437.73 L384.95 440.04 L385.45 442.34 L386.01 444.56 L386.61 446.66 L387.3 448.62 L387.88 450.07 L388.49 451.49 L389.13 452.84 L389.82 454.08 L390.57 455.19 L391.4 456.12 L392.11 456.73 L392.84 457.24 L393.61 457.66 L394.44 458.01 L395.33 458.3 L396.3 458.54 L397.92 458.74 L399.76 458.73 L401.74 458.61 L403.78 458.45 L405.79 458.36 L407.7 458.42 L409.39 458.64 L411.03 458.94 L412.65 459.29 L414.27 459.67 L415.92 460.03 L417.6 460.35 L419.45 460.65 L421.33 460.95 L423.24 461.22 L425.16 461.48 L427.09 461.72 L429 461.93 L430.96 462.15 L432.99 462.4 L435.01 462.62 L436.98 462.77 L438.83 462.82 L440.5 462.67 L441.56 462.43 L442.51 462.15 L443.41 461.83 L444.28 461.43 L445.16 460.96 L446.1 460.39 L447.47 459.39 L448.88 458.15 L450.32 456.75 L451.77 455.3 L453.24 453.87 L454.7 452.57 L456.14 451.44 L457.63 450.39 L459.13 449.36 L460.6 448.32 L462 447.23 L463.3 446.03 L464.43 444.68 L465.43 443.16 L466.38 441.59 L467.31 440.08 L468.3 438.76 L469.4 437.73 L470.34 437.17 L471.29 436.79 L472.27 436.54 L473.3 436.35 L474.41 436.18 L475.6 435.99 L477.53 435.69 L479.67 435.44 L481.95 435.23 L484.32 435.08 L486.73 434.97 L489.1 434.92 L491.74 435.01 L494.5 435.27 L497.29 435.6 L500.04 435.87 L502.63 435.97 L505 435.8 L506.61 435.46 L508.09 434.98 L509.5 434.4 L510.86 433.77 L512.21 433.14 L513.6 432.53 L515.03 431.92 L516.47 431.28 L517.9 430.63 L519.31 429.99 L520.68 429.41 L522 428.9 L523.02 428.57 L524 428.3 L524.95 428.06 L525.89 427.81 L526.83 427.5 L527.8 427.1 L528.98 426.47 L530.2 425.71 L531.42 424.87 L532.63 424.01 L533.79 423.21 L534.9 422.5 L535.71 422.01 L536.49 421.54 L537.23 421.1 L537.98 420.69 L538.73 420.32 L539.5 420 L540.25 419.74 L540.99 419.52 L541.75 419.34 L542.52 419.19 L543.33 419.08 L544.2 419 L545.42 418.94 L546.71 418.95 L548.07 419.01 L549.48 419.13 L550.93 419.29 L552.4 419.5 L554.22 419.85 L556.1 420.32 L558.03 420.86 L560.01 421.43 L562.04 422.02 L564.1 422.55 L566.5 423.1 L568.97 423.62 L571.5 424.13 L574.07 424.64 L576.64 425.14 L579.2 425.65 L581.89 426.18 L584.69 426.73 L587.49 427.28 L590.21 427.8 L592.75 428.3 L595 428.75 L596.26 429.01 L597.37 429.25 L598.41 429.48 L599.43 429.7 L600.51 429.92 L601.7 430.13 L603.46 430.43 L605.36 430.72 L607.34 431 L609.38 431.28 L611.41 431.54 L613.4 431.78 L615.34 432 L617.28 432.2 L619.21 432.38 L621.16 432.56 L623.12 432.74 L625.1 432.93 L627.21 433.15 L629.35 433.38 L631.51 433.61 L633.68 433.84 L635.84 434.07 L638 434.3 L638 443.3 L635.84 443.13 L633.68 442.95 L631.51 442.77 L629.35 442.6 L627.21 442.43 L625.1 442.27 L623.12 442.12 L621.16 441.99 L619.21 441.86 L617.28 441.73 L615.34 441.58 L613.4 441.42 L611.41 441.22 L609.38 441.01 L607.34 440.79 L605.36 440.55 L603.46 440.31 L601.7 440.07 L600.51 439.88 L599.43 439.69 L598.41 439.5 L597.37 439.29 L596.26 439.08 L595 438.85 L592.75 438.46 L590.21 438.03 L587.49 437.57 L584.69 437.1 L581.89 436.62 L579.2 436.15 L576.64 435.71 L574.07 435.28 L571.5 434.84 L568.97 434.39 L566.5 433.93 L564.1 433.45 L562.04 432.97 L560.01 432.43 L558.03 431.86 L556.1 431.32 L554.22 430.85 L552.4 430.5 L550.93 430.29 L549.48 430.13 L548.07 430.01 L546.71 429.95 L545.42 429.94 L544.2 430 L543.33 430.08 L542.52 430.19 L541.75 430.34 L540.99 430.52 L540.25 430.74 L539.5 431 L538.73 431.32 L537.98 431.69 L537.23 432.1 L536.49 432.54 L535.71 433.01 L534.9 433.5 L533.79 434.21 L532.63 435.01 L531.42 435.87 L530.2 436.71 L528.98 437.47 L527.8 438.1 L526.83 438.5 L525.89 438.81 L524.95 439.06 L524 439.3 L523.02 439.57 L522 439.9 L520.68 440.41 L519.31 440.96 L517.9 441.54 L516.47 442.14 L515.03 442.72 L513.6 443.27 L512.21 443.82 L510.86 444.41 L509.5 444.98 L508.09 445.5 L506.61 445.92 L505 446.2 L502.63 446.28 L500.04 446.07 L497.29 445.69 L494.5 445.25 L491.74 444.88 L489.1 444.68 L486.73 444.64 L484.32 444.65 L481.95 444.71 L479.67 444.83 L477.53 444.99 L475.6 445.21 L474.41 445.36 L473.3 445.48 L472.27 445.63 L471.29 445.85 L470.34 446.18 L469.4 446.67 L468.3 447.59 L467.31 448.81 L466.38 450.23 L465.43 451.71 L464.43 453.13 L463.3 454.37 L462 455.43 L460.6 456.38 L459.13 457.28 L457.63 458.15 L456.14 459.06 L454.7 460.04 L453.24 461.19 L451.77 462.47 L450.32 463.78 L448.88 465.04 L447.47 466.14 L446.1 467 L445.16 467.48 L444.28 467.86 L443.41 468.17 L442.51 468.41 L441.56 468.59 L440.5 468.72 L438.83 468.9 L436.98 468.97 L435.01 468.95 L432.99 468.86 L430.96 468.76 L429 468.67 L427.09 468.58 L425.16 468.47 L423.24 468.34 L421.33 468.19 L419.45 468.02 L417.6 467.85 L415.92 467.64 L414.27 467.38 L412.65 467.12 L411.03 466.87 L409.39 466.68 L407.7 466.58 L405.79 466.64 L403.78 466.87 L401.74 467.16 L399.76 467.42 L397.92 467.55 L396.3 467.46 L395.33 467.28 L394.44 467.07 L393.61 466.8 L392.84 466.46 L392.11 466.02 L391.4 465.48 L390.57 464.63 L389.82 463.6 L389.13 462.43 L388.49 461.14 L387.88 459.78 L387.3 458.38 L386.61 456.5 L386.01 454.46 L385.45 452.3 L384.95 450.04 L384.47 447.73 L384 445.4 L383.52 442.75 L383.09 439.99 L382.69 437.17 L382.31 434.36 L381.92 431.62 L381.5 429 L381.11 426.84 L380.72 424.77 L380.31 422.74 L379.91 420.73 L379.5 418.73 L379.1 416.7Z" fill="#F04E5A" fill-opacity="0.28"/>
<path d="M379.4 274.8 L379.85 279.18 L380.3 287.17 L380.74 295.63 L381.19 302.67 L381.64 307.77 L382.1 312.83 L382.55 317.7 L383.01 322.6 L383.47 327.48 L383.93 332.28 L384.37 336.34 L384.8 340.1 L385.13 343.01 L385.45 345.82 L385.75 348.53 L386.06 351.17 L386.37 353.77 L386.7 356.34 L387 358.63 L387.28 360.88 L387.58 363.09 L387.89 365.27 L388.23 367.43 L388.6 369.57 L389 371.59 L389.45 373.59 L389.92 375.57 L390.4 377.53 L390.86 379.48 L391.3 381.41 L391.69 383.24 L392.06 385.03 L392.42 386.78 L392.77 388.52 L393.13 390.26 L393.5 392 L393.86 393.76 L394.22 395.54 L394.57 397.31 L394.95 399.07 L395.35 400.81 L395.8 402.5 L396.27 404.06 L396.76 405.6 L397.29 407.11 L397.84 408.59 L398.41 410.06 L399 411.5 L399.56 412.84 L400.11 414.15 L400.69 415.43 L401.31 416.71 L402 417.99 L402.8 419.3 L403.93 420.94 L405.21 422.66 L406.6 424.46 L408.05 426.23 L409.54 427.92 L411 429.5 L412.33 430.85 L413.68 432.18 L415.06 433.44 L416.45 434.61 L417.83 435.66 L419.2 436.55 L420.29 437.15 L421.38 437.63 L422.46 438.03 L423.54 438.33 L424.62 438.49 L425.7 438.5 L426.79 438.3 L427.87 437.87 L428.95 437.31 L430.04 436.69 L431.15 436.09 L432.3 435.6 L433.59 435.15 L434.91 434.73 L436.26 434.34 L437.64 433.98 L439.05 433.65 L440.5 433.36 L442.2 433.14 L443.98 433.04 L445.81 432.98 L447.63 432.88 L449.37 432.68 L451 432.3 L452.33 431.78 L453.57 431.13 L454.76 430.39 L455.93 429.59 L457.13 428.78 L458.4 428 L459.93 427.1 L461.5 426.16 L463.11 425.2 L464.77 424.25 L466.46 423.34 L468.2 422.5 L470.14 421.68 L472.14 420.93 L474.19 420.22 L476.28 419.54 L478.39 418.87 L480.5 418.21 L482.73 417.52 L485.02 416.78 L487.32 416.06 L489.61 415.4 L491.85 414.88 L494 414.55 L495.71 414.45 L497.37 414.48 L498.98 414.6 L500.58 414.76 L502.18 414.93 L503.8 415.06 L505.43 415.17 L507.05 415.27 L508.68 415.39 L510.3 415.51 L511.94 415.66 L513.6 415.83 L515.4 416.1 L517.26 416.48 L519.14 416.88 L520.98 417.21 L522.72 417.38 L524.3 417.3 L525.43 417.05 L526.51 416.68 L527.52 416.2 L528.48 415.66 L529.37 415.09 L530.2 414.5 L530.84 413.99 L531.41 413.44 L531.94 412.86 L532.45 412.27 L532.96 411.66 L533.5 411.06 L534.11 410.4 L534.73 409.72 L535.35 409.03 L535.97 408.35 L536.59 407.67 L537.2 407.02 L537.75 406.42 L538.28 405.82 L538.82 405.23 L539.35 404.67 L539.91 404.15 L540.5 403.68 L541.06 403.28 L541.62 402.91 L542.2 402.58 L542.81 402.28 L543.47 402.04 L544.2 401.84 L545.36 401.65 L546.66 401.57 L548.06 401.58 L549.51 401.66 L550.97 401.8 L552.4 401.97 L553.91 402.23 L555.43 402.59 L556.96 403 L558.51 403.46 L560.09 403.95 L561.7 404.42 L563.58 404.98 L565.5 405.58 L567.47 406.22 L569.45 406.85 L571.43 407.48 L573.4 408.07 L575.36 408.64 L577.33 409.2 L579.3 409.75 L581.26 410.28 L583.2 410.77 L585.1 411.22 L586.81 411.59 L588.53 411.92 L590.22 412.22 L591.87 412.5 L593.47 412.77 L595 413.05 L596.17 413.27 L597.26 413.48 L598.32 413.68 L599.38 413.88 L600.49 414.1 L601.7 414.33 L603.46 414.69 L605.36 415.07 L607.35 415.48 L609.38 415.9 L611.41 416.3 L613.4 416.68 L615.34 417.05 L617.27 417.42 L619.21 417.79 L621.15 418.13 L623.11 418.45 L625.1 418.73 L627.21 418.99 L629.35 419.2 L631.51 419.38 L633.67 419.55 L635.84 419.72 L638 419.9 L638 429.9 L635.84 429.76 L633.67 429.63 L631.51 429.5 L629.35 429.36 L627.21 429.19 L625.1 428.98 L623.11 428.74 L621.15 428.45 L619.21 428.15 L617.27 427.82 L615.34 427.49 L613.4 427.16 L611.41 426.81 L609.38 426.45 L607.35 426.07 L605.36 425.7 L603.46 425.35 L601.7 425.03 L600.49 424.82 L599.38 424.62 L598.32 424.44 L597.26 424.26 L596.17 424.07 L595 423.88 L593.47 423.63 L591.87 423.39 L590.22 423.13 L588.53 422.87 L586.81 422.57 L585.1 422.24 L583.2 421.83 L581.26 421.37 L579.3 420.88 L577.33 420.37 L575.36 419.84 L573.4 419.31 L571.43 418.76 L569.45 418.17 L567.47 417.57 L565.5 416.98 L563.58 416.41 L561.7 415.89 L560.09 415.44 L558.51 415.01 L556.96 414.6 L555.43 414.24 L553.91 413.94 L552.4 413.73 L550.97 413.6 L549.51 413.51 L548.06 413.48 L546.66 413.52 L545.36 413.64 L544.2 413.86 L543.47 414.09 L542.81 414.36 L542.2 414.67 L541.62 415.02 L541.06 415.41 L540.5 415.83 L539.91 416.32 L539.35 416.86 L538.82 417.44 L538.28 418.05 L537.75 418.67 L537.2 419.28 L536.59 419.95 L535.97 420.65 L535.35 421.36 L534.73 422.06 L534.11 422.76 L533.5 423.44 L532.96 424.06 L532.45 424.68 L531.94 425.3 L531.41 425.89 L530.84 426.46 L530.2 427 L529.37 427.62 L528.48 428.24 L527.52 428.83 L526.51 429.35 L525.43 429.78 L524.3 430.09 L522.72 430.24 L520.98 430.16 L519.14 429.92 L517.26 429.62 L515.4 429.33 L513.6 429.15 L511.94 429.06 L510.3 429 L508.68 428.95 L507.05 428.92 L505.43 428.89 L503.8 428.87 L502.18 428.82 L500.58 428.74 L498.98 428.65 L497.37 428.61 L495.71 428.66 L494 428.85 L491.85 429.29 L489.61 429.92 L487.32 430.69 L485.02 431.53 L482.73 432.38 L480.5 433.19 L478.39 433.87 L476.28 434.54 L474.19 435.22 L472.14 435.93 L470.14 436.68 L468.2 437.5 L466.46 438.34 L464.77 439.25 L463.11 440.2 L461.5 441.16 L459.93 442.1 L458.4 443 L457.13 443.78 L455.93 444.59 L454.76 445.39 L453.57 446.13 L452.33 446.78 L451 447.3 L449.37 447.66 L447.63 447.81 L445.81 447.84 L443.98 447.84 L442.2 447.88 L440.5 448.04 L439.05 448.29 L437.64 448.57 L436.26 448.88 L434.91 449.23 L433.59 449.61 L432.3 450 L431.15 450.46 L430.04 451.02 L428.95 451.6 L427.87 452.13 L426.79 452.52 L425.7 452.7 L424.62 452.65 L423.54 452.45 L422.46 452.11 L421.38 451.68 L420.29 451.16 L419.2 450.65 L417.83 449.94 L416.45 449.08 L415.06 448.1 L413.68 447.02 L412.33 445.88 L411 444.7 L409.54 443.32 L408.05 441.82 L406.6 440.24 L405.21 438.63 L403.93 436.94 L402.8 435.3 L402 433.99 L401.31 432.71 L400.69 431.43 L400.11 430.15 L399.56 428.84 L399 427.5 L398.41 426.06 L397.84 424.59 L397.29 423.11 L396.76 421.6 L396.27 420.06 L395.8 418.5 L395.35 416.81 L394.95 415.07 L394.57 413.31 L394.22 411.54 L393.86 409.76 L393.5 408 L393.13 406.26 L392.77 404.52 L392.42 402.78 L392.06 401.03 L391.69 399.28 L391.3 397.5 L390.86 395.62 L390.4 393.73 L389.92 391.83 L389.45 389.91 L389 387.97 L388.6 386 L388.23 383.9 L387.89 381.78 L387.58 379.64 L387.28 377.47 L387 375.26 L386.7 373 L386.37 370.47 L386.06 367.91 L385.75 365.31 L385.45 362.64 L385.13 359.87 L384.8 357 L384.37 353.29 L383.93 349.44 L383.47 345.63 L383.01 341.74 L382.55 337.83 L382.1 333.93 L381.64 329.85 L381.19 325.72 L380.74 321.56 L380.3 317.38 L379.85 313.18 L379.4 308.8Z" fill="#F8A359" fill-opacity="0.28"/>
</g>
<rect x="367.5" y="263.0" width="282.7" height="214.3" fill="none" stroke="#B3B3B3" stroke-width="1.5"/>
<line x1="362.2" y1="469.9" x2="367.5" y2="469.9" stroke="#ACACAC" stroke-width="1.5"/>
<text x="357.6" y="475.15" font-size="14.8" text-anchor="end" fill="#000" class="t">0</text>
<line x1="362.2" y1="431.08" x2="367.5" y2="431.08" stroke="#ACACAC" stroke-width="1.5"/>
<text x="357.6" y="436.33" font-size="14.8" text-anchor="end" fill="#000" class="t">10</text>
<line x1="362.2" y1="392.26" x2="367.5" y2="392.26" stroke="#ACACAC" stroke-width="1.5"/>
<text x="357.6" y="397.51" font-size="14.8" text-anchor="end" fill="#000" class="t">20</text>
<line x1="362.2" y1="353.44" x2="367.5" y2="353.44" stroke="#ACACAC" stroke-width="1.5"/>
<text x="357.6" y="358.69" font-size="14.8" text-anchor="end" fill="#000" class="t">30</text>
<line x1="362.2" y1="314.62" x2="367.5" y2="314.62" stroke="#ACACAC" stroke-width="1.5"/>
<text x="357.6" y="319.87" font-size="14.8" text-anchor="end" fill="#000" class="t">40</text>
<line x1="362.2" y1="275.8" x2="367.5" y2="275.8" stroke="#ACACAC" stroke-width="1.5"/>
<text x="357.6" y="281.05" font-size="14.8" text-anchor="end" fill="#000" class="t">50</text>
<line x1="60" y1="477.3" x2="60" y2="482.9" stroke="#ACACAC" stroke-width="1.5"/>
<text x="60" y="497.8" font-size="14.8" text-anchor="middle" fill="#000" class="t">0</text>
<line x1="161.4" y1="477.3" x2="161.4" y2="482.9" stroke="#ACACAC" stroke-width="1.5"/>
<text x="161.4" y="497.8" font-size="14.8" text-anchor="middle" fill="#000" class="t">5</text>
<line x1="262.8" y1="477.3" x2="262.8" y2="482.9" stroke="#ACACAC" stroke-width="1.5"/>
<text x="262.8" y="497.8" font-size="14.8" text-anchor="middle" fill="#000" class="t">10</text>
<line x1="379" y1="477.3" x2="379" y2="482.9" stroke="#ACACAC" stroke-width="1.5"/>
<text x="379" y="497.8" font-size="14.8" text-anchor="middle" fill="#000" class="t">0</text>
<line x1="480.4" y1="477.3" x2="480.4" y2="482.9" stroke="#ACACAC" stroke-width="1.5"/>
<text x="480.4" y="497.8" font-size="14.8" text-anchor="middle" fill="#000" class="t">5</text>
<line x1="581.8" y1="477.3" x2="581.8" y2="482.9" stroke="#ACACAC" stroke-width="1.5"/>
<text x="581.8" y="497.8" font-size="14.8" text-anchor="middle" fill="#000" class="t">10</text>
<rect x="48.3" y="0.6" width="282.75" height="33.7" fill="#D9D9D9" stroke="#B3B3B3" stroke-width="1.5"/>
<text x="189.68" y="23.8" font-size="18.5" text-anchor="middle" fill="#000" class="t">Head</text>
<rect x="367.5" y="0.6" width="282.7" height="33.7" fill="#D9D9D9" stroke="#B3B3B3" stroke-width="1.5"/>
<text x="508.85" y="23.8" font-size="18.5" text-anchor="middle" fill="#000" class="t">Body</text>
<rect x="651.0" y="34.6" width="33.3" height="214.1" fill="#D9D9D9" stroke="#B3B3B3" stroke-width="1.5"/>
<text transform="translate(661.7 141.5) rotate(90)" x="0" y="0" font-size="18.5" text-anchor="middle" fill="#000" class="t">Perpetrator</text>
<rect x="651.0" y="263.3" width="33.3" height="214" fill="#D9D9D9" stroke="#B3B3B3" stroke-width="1.5"/>
<text transform="translate(661.7 370.15) rotate(90)" x="0" y="0" font-size="18.5" text-anchor="middle" fill="#000" class="t">Victim</text>
<text x="349.6" y="517" font-size="18.5" text-anchor="middle" fill="#000" class="t">Time (s)</text>
<text transform="translate(13.7 262.4) rotate(-90)" x="0" y="0" font-size="18.5" text-anchor="middle" fill="#000" class="t">Proportion of Samples (%)</text>
<rect x="107.5" y="541" width="468.5" height="68" fill="#fff" stroke="#B3B3B3" stroke-width="1.5"/>
<text x="125.5" y="581.5" font-size="18.5" fill="#000" class="t">Object Type</text>
<line x1="249.7" y1="575.3" x2="275.4" y2="575.3" stroke="#5598D5" stroke-width="2.1"/>
<rect x="247.9" y="560.6" width="29.3" height="29.2" fill="#5093D2" fill-opacity="0.28"/>
<text x="288.7" y="580.8" font-size="14.8" fill="#000" class="t">Knife</text>
<line x1="335.4" y1="575.3" x2="361.1" y2="575.3" stroke="#EF5562" stroke-width="2.1"/>
<rect x="333.6" y="560.6" width="29.3" height="29.2" fill="#F04E5A" fill-opacity="0.28"/>
<text x="374.7" y="580.8" font-size="14.8" fill="#000" class="t">Water Bottle</text>
<line x1="469.7" y1="575.3" x2="495.4" y2="575.3" stroke="#F8A359" stroke-width="2.1"/>
<rect x="467.9" y="560.6" width="29.3" height="29.2" fill="#F8A359" fill-opacity="0.28"/>
<text x="508.6" y="580.8" font-size="14.8" fill="#000" class="t">Plunger</text>
</svg></body></html>
